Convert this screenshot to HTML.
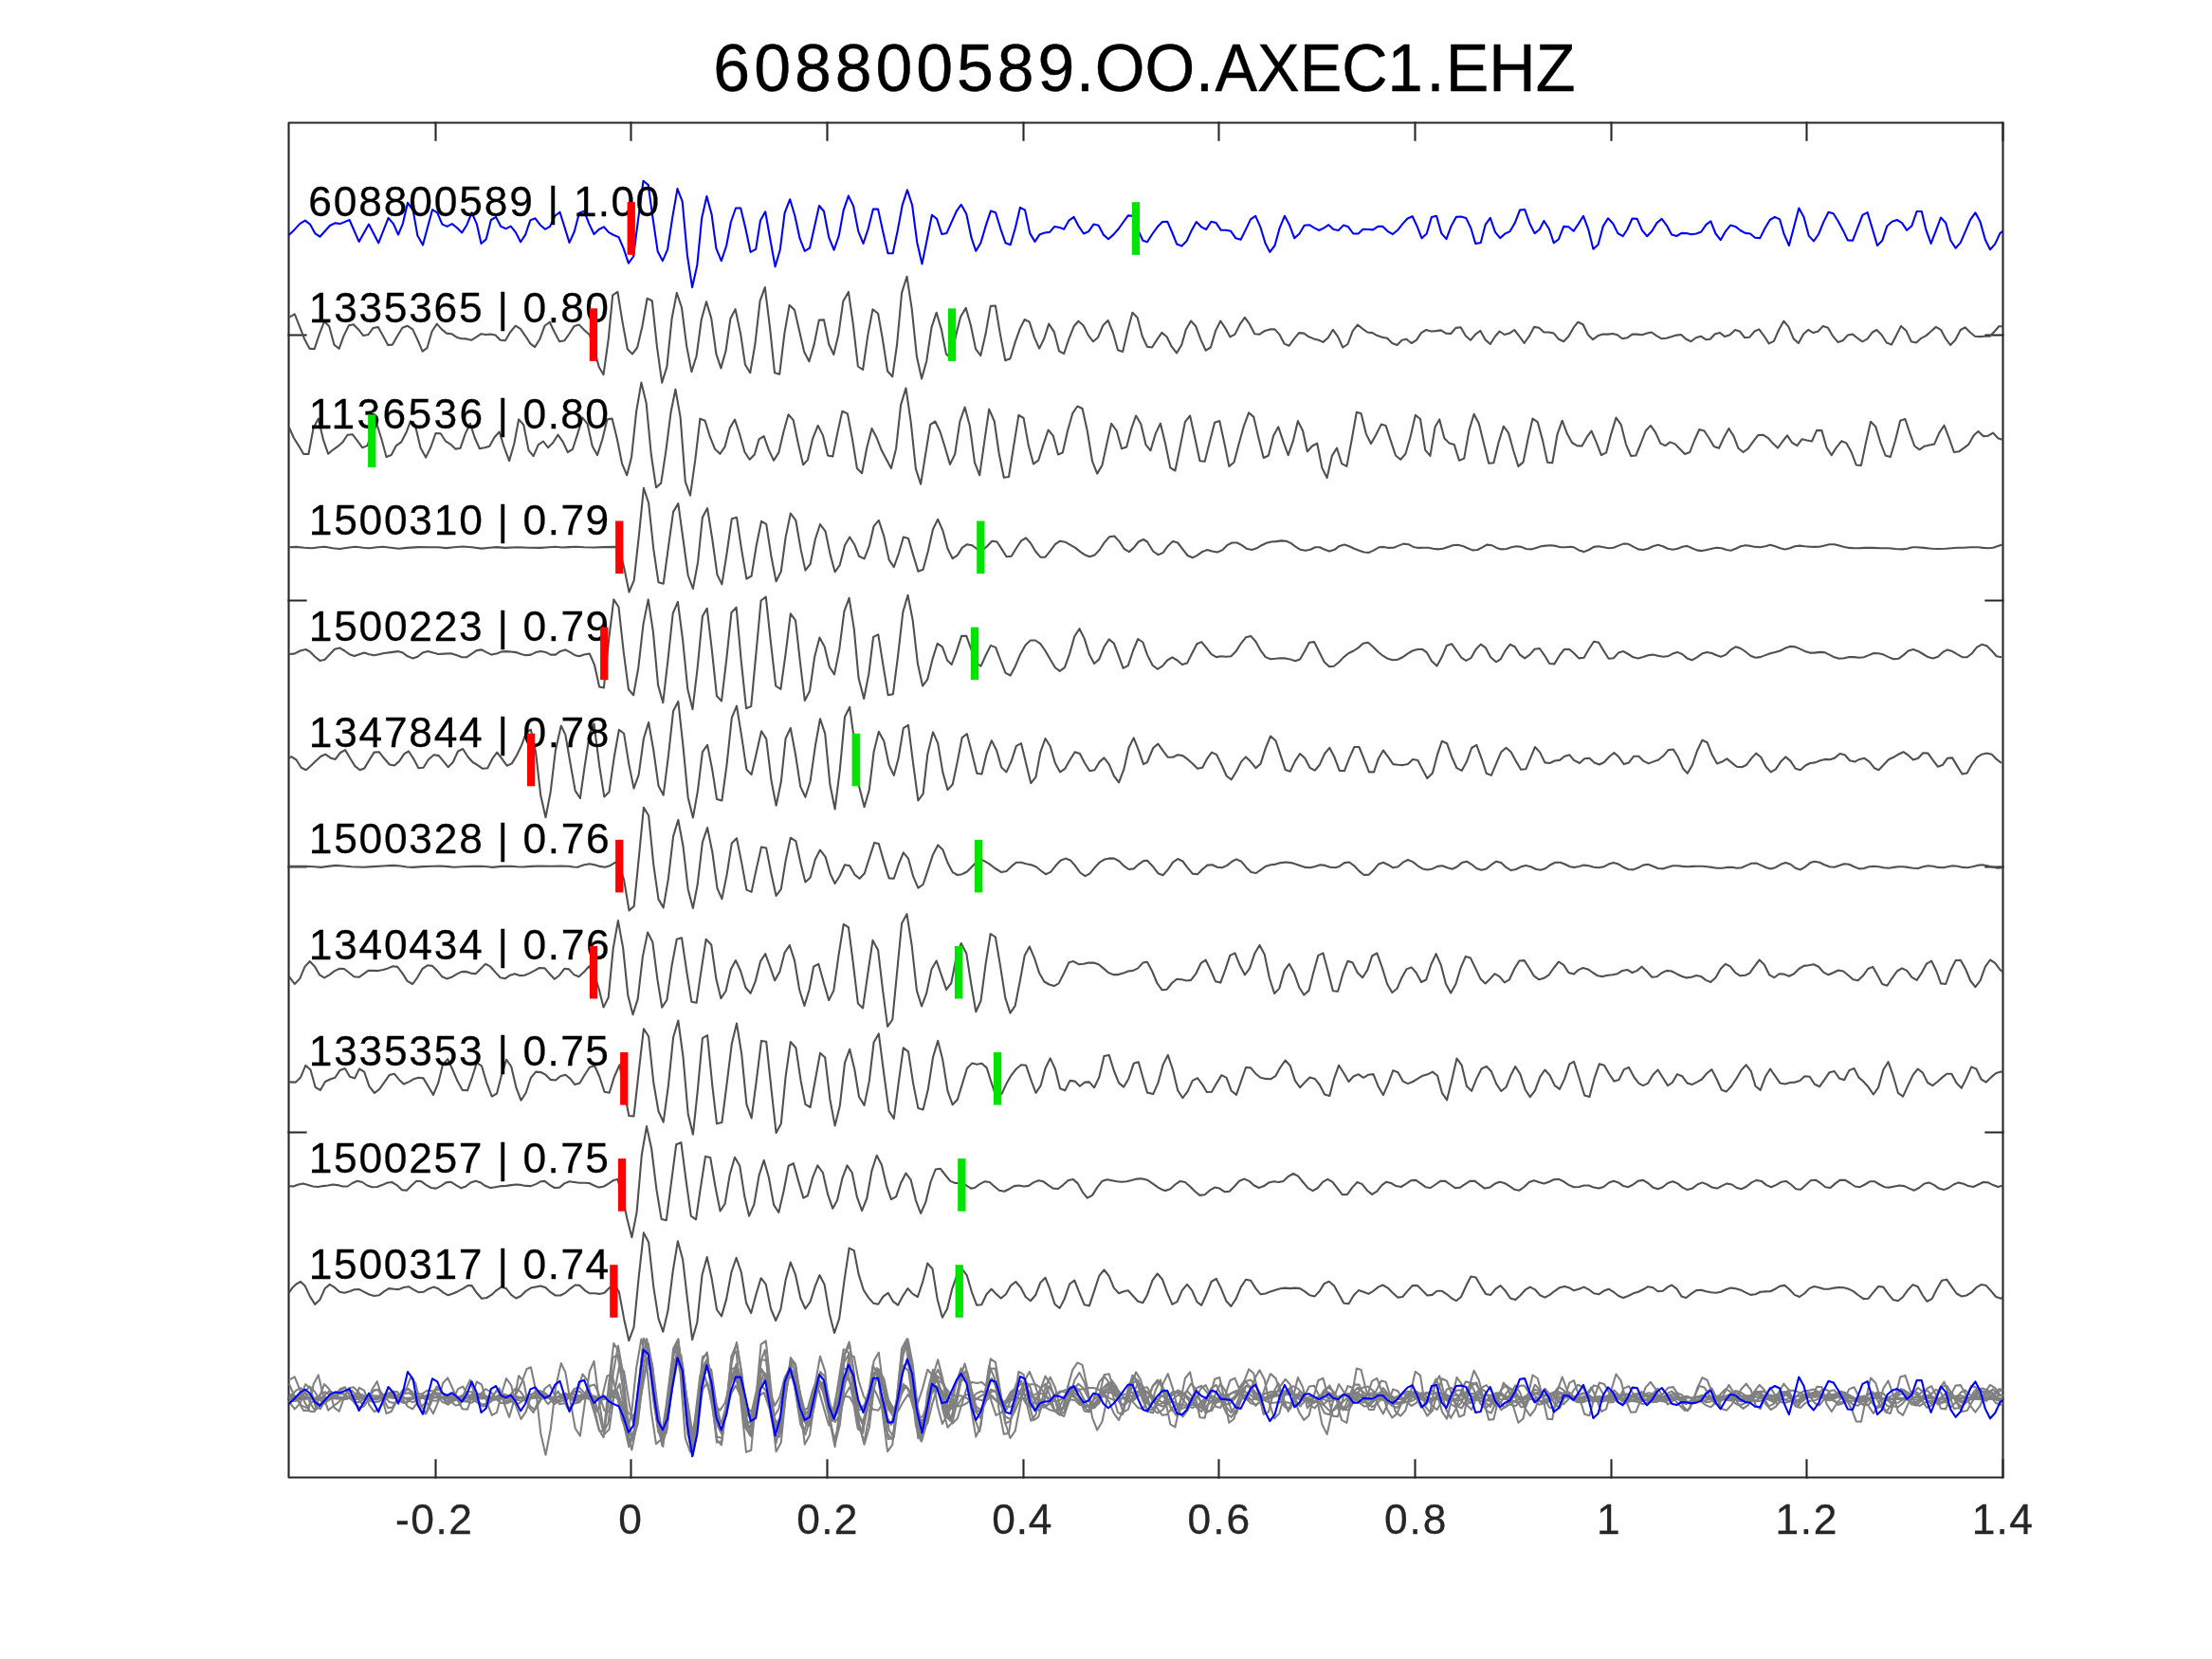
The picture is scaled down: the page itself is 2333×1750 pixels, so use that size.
<!DOCTYPE html><html><head><meta charset="utf-8"><title>608800589.OO.AXEC1.EHZ</title>
<style>html,body{margin:0;padding:0;background:#fff}svg{display:block}text{font-family:"Liberation Sans",sans-serif}</style></head><body>
<svg width="2333" height="1750" viewBox="0 0 2333 1750">
<rect x="0" y="0" width="2333" height="1750" fill="#fff"/>
<defs><filter id="ga" filterUnits="userSpaceOnUse" x="0" y="0" width="2333" height="1750"><feOffset dx="0" dy="0"/></filter></defs>
<defs><clipPath id="ax"><rect x="304.5" y="129.5" width="1808.0" height="1429.0"/></clipPath></defs>
<g filter="url(#ga)">
<rect x="304.5" y="129.5" width="1808.0" height="1429.0" fill="none" stroke="#262626" stroke-width="2.08" stroke-linejoin="round"/>
<path d="M459.5 1558.5v-18.1M459.5 129.5v18.1M665.5 1558.5v-18.1M665.5 129.5v18.1M872.5 1558.5v-18.1M872.5 129.5v18.1M1079.5 1558.5v-18.1M1079.5 129.5v18.1M1285.5 1558.5v-18.1M1285.5 129.5v18.1M1492.5 1558.5v-18.1M1492.5 129.5v18.1M1699.5 1558.5v-18.1M1699.5 129.5v18.1M1905.5 1558.5v-18.1M1905.5 129.5v18.1M2112.5 1558.5v-18.1M2112.5 129.5v18.1M304.5 353.5h18.1M2112.5 353.5h-18.1M304.5 633.5h18.1M2112.5 633.5h-18.1M304.5 914.5h18.1M2112.5 914.5h-18.1M304.5 1194.5h18.1M2112.5 1194.5h-18.1M304.5 1475.5h18.1M2112.5 1475.5h-18.1" stroke="#262626" stroke-width="2.08" stroke-linecap="square" fill="none"/>
<g clip-path="url(#ax)">
<polyline points="304.6,1455.9 310.8,1452.4 316.0,1465.3 321.2,1478.8 326.4,1488.6 331.6,1489.2 336.8,1473.6 342.0,1460.1 347.2,1465.3 352.4,1484.6 357.6,1488.8 362.8,1474.6 368.0,1464.2 372.8,1463.2 378.0,1468.4 383.2,1475.1 388.4,1474.0 393.6,1466.9 398.8,1465.9 404.0,1475.3 409.2,1485.0 414.0,1484.6 419.2,1475.3 424.4,1466.7 429.6,1464.7 435.2,1468.4 440.4,1479.4 445.6,1491.7 450.4,1488.2 455.6,1470.5 460.8,1462.6 465.9,1468.4 471.1,1472.6 476.3,1473.2 481.5,1476.7 486.7,1478.2 491.9,1478.4 497.1,1479.8 502.3,1476.7 507.5,1473.2 512.1,1474.0 517.3,1473.6 522.5,1474.6 527.7,1479.8 532.9,1480.3 538.1,1471.5 543.7,1464.7 548.9,1467.8 554.1,1475.3 559.3,1483.4 564.1,1487.1 569.3,1478.8 574.5,1464.7 579.7,1460.7 584.9,1471.5 590.1,1481.3 595.3,1480.3 600.5,1473.0 605.7,1464.9 610.9,1463.6 616.1,1469.0 621.9,1474.2 626.5,1489.2 631.7,1507.9 636.5,1516.2 641.7,1478.8 646.2,1432.4 651.4,1428.9 656.6,1461.1 661.8,1489.2 667.0,1494.4 672.2,1487.5 677.4,1465.3 682.6,1435.8 687.8,1438.3 693.0,1487.1 698.2,1524.6 703.4,1507.9 708.6,1457.0 713.8,1429.9 719.0,1445.5 724.2,1486.1 729.4,1513.1 734.6,1496.5 739.8,1458.0 745.0,1439.3 750.2,1456.6 755.4,1494.4 760.4,1509.4 765.6,1490.7 770.4,1457.0 775.6,1447.2 781.2,1473.6 786.0,1505.8 791.2,1514.2 796.4,1484.0 801.6,1438.3 806.8,1424.1 812.0,1466.3 817.0,1514.2 822.2,1515.8 827.4,1472.6 832.6,1442.8 838.0,1448.0 843.2,1470.5 848.2,1492.3 853.4,1502.3 858.6,1484.6 863.8,1458.6 869.0,1458.4 874.2,1484.0 879.3,1495.0 884.5,1473.2 889.3,1438.7 894.9,1428.9 899.7,1462.2 904.9,1507.5 910.1,1511.0 915.3,1474.6 920.5,1447.2 926.1,1451.8 930.9,1478.8 936.1,1512.5 941.3,1518.3 946.1,1484.0 951.1,1429.9 956.5,1412.7 961.7,1446.6 966.9,1497.1 972.1,1520.4 977.3,1501.7 982.5,1466.3 987.7,1450.7 992.9,1468.4 997.9,1494.4 1002.7,1498.6 1008.5,1473.6 1013.1,1455.3 1018.7,1445.9 1023.9,1464.2 1029.1,1489.2 1034.3,1496.1 1039.5,1473.6 1044.7,1443.9 1049.9,1443.5 1055.1,1474.6 1060.3,1501.3 1065.5,1499.2 1070.7,1481.9 1075.9,1467.4 1080.7,1458.0 1085.8,1460.7 1091.0,1477.1 1096.2,1488.6 1101.4,1477.8 1106.2,1462.6 1111.8,1471.1 1117.0,1491.3 1122.2,1494.0 1127.4,1478.4 1132.6,1465.3 1137.4,1459.7 1142.6,1464.2 1147.8,1474.6 1153.0,1481.3 1158.2,1476.7 1163.4,1464.2 1168.6,1459.0 1173.8,1471.5 1179.0,1490.2 1184.2,1491.9 1189.4,1469.4 1194.4,1450.7 1199.6,1455.9 1204.8,1475.7 1210.0,1486.7 1215.0,1487.5 1220.2,1479.4 1225.4,1471.9 1230.6,1476.3 1235.8,1486.7 1241.0,1493.4 1246.2,1485.0 1250.9,1468.4 1256.1,1459.5 1261.3,1465.3 1266.5,1479.4 1271.7,1490.7 1276.9,1487.5 1282.1,1469.9 1287.3,1459.5 1292.5,1467.4 1297.3,1476.3 1302.5,1473.6 1307.7,1463.2 1312.9,1455.9 1318.1,1463.2 1323.3,1473.2 1328.5,1473.6 1334.1,1469.9 1339.3,1468.4 1344.5,1468.4 1349.3,1473.6 1354.5,1483.6 1359.7,1485.7 1364.9,1478.4 1370.1,1472.1 1375.3,1472.6 1380.5,1476.3 1385.7,1478.4 1390.9,1479.8 1395.5,1481.9 1400.7,1477.3 1405.9,1468.8 1411.1,1476.1 1416.3,1487.5 1421.5,1484.0 1426.7,1470.1 1431.9,1463.6 1437.1,1467.8 1442.3,1471.5 1447.5,1472.1 1452.7,1475.1 1457.9,1476.7 1463.1,1477.8 1468.3,1483.0 1473.5,1485.0 1478.7,1479.8 1483.4,1478.8 1488.6,1483.0 1493.8,1479.8 1499.0,1472.1 1504.2,1469.0 1509.4,1470.5 1514.6,1470.1 1519.8,1469.4 1525.0,1472.6 1530.2,1473.0 1535.4,1466.9 1540.6,1466.3 1545.8,1475.3 1551.0,1479.8 1556.2,1473.6 1561.4,1469.9 1566.6,1479.4 1571.8,1484.0 1577.0,1475.7 1581.6,1470.5 1586.8,1474.0 1592.0,1472.6 1597.2,1469.0 1602.4,1475.7 1607.6,1483.0 1612.8,1475.7 1618.0,1465.9 1623.2,1466.7 1628.4,1471.5 1633.6,1471.5 1638.8,1472.6 1644.0,1478.8 1649.2,1481.3 1654.4,1475.7 1659.6,1466.7 1664.4,1460.7 1669.6,1463.2 1674.8,1474.0 1680.0,1479.2 1685.2,1475.3 1690.4,1473.6 1695.6,1473.6 1700.8,1473.0 1705.9,1474.2 1711.1,1478.2 1716.3,1477.3 1721.5,1473.6 1726.7,1473.6 1731.9,1474.2 1737.1,1472.6 1741.9,1471.5 1747.1,1475.1 1752.3,1478.2 1757.5,1477.8 1762.7,1476.3 1767.9,1474.6 1773.1,1474.0 1778.3,1478.8 1783.5,1481.3 1788.7,1477.3 1793.9,1475.7 1799.1,1479.2 1803.7,1478.8 1808.9,1473.2 1814.1,1472.1 1819.3,1476.1 1824.5,1474.2 1830.1,1469.0 1834.9,1470.5 1840.1,1477.1 1845.3,1476.7 1850.5,1470.5 1855.3,1468.4 1860.5,1475.3 1865.7,1483.4 1870.9,1480.9 1876.1,1469.0 1881.3,1459.7 1886.5,1465.9 1891.7,1478.4 1896.9,1483.0 1902.1,1473.6 1907.3,1468.8 1912.5,1472.1 1917.6,1470.5 1922.8,1464.9 1928.0,1466.7 1933.2,1475.7 1938.4,1481.9 1943.6,1480.3 1948.8,1474.6 1954.0,1473.6 1959.2,1477.8 1964.4,1481.3 1969.6,1478.4 1974.8,1471.5 1979.4,1469.0 1984.6,1474.2 1989.8,1482.5 1995.0,1484.6 2000.2,1474.6 2005.0,1464.9 2010.6,1470.1 2015.8,1481.3 2021.0,1482.5 2026.2,1477.8 2031.4,1475.1 2036.6,1470.5 2041.8,1465.9 2047.0,1468.8 2052.2,1478.4 2057.0,1485.0 2062.2,1479.8 2067.8,1469.0 2072.6,1466.3 2077.8,1471.5 2083.0,1475.7 2088.2,1476.1 2093.4,1475.7 2098.6,1475.7 2103.8,1470.5 2108.3,1465.3 2112.5,1465.3" fill="none" stroke="#808080" stroke-width="2.08" stroke-linejoin="round" />
<polyline points="304.6,1459.2 309.8,1470.7 315.0,1479.0 320.2,1487.9 325.4,1487.9 330.6,1460.3 335.8,1450.5 341.0,1472.8 346.2,1487.7 351.4,1483.2 356.6,1479.6 361.8,1474.8 366.5,1467.6 371.7,1467.1 376.9,1473.8 382.1,1481.1 387.3,1479.0 392.5,1465.5 397.7,1457.2 402.3,1471.7 407.5,1490.9 412.7,1489.0 417.9,1479.0 423.1,1475.3 428.3,1465.5 433.1,1453.0 438.3,1459.2 443.5,1481.1 449.1,1491.5 454.3,1480.7 459.5,1465.9 464.7,1466.1 469.9,1474.2 475.1,1477.5 480.3,1482.5 485.5,1481.7 490.7,1466.5 495.9,1455.7 500.7,1470.7 505.9,1482.1 511.1,1481.1 516.3,1479.6 521.5,1470.1 526.7,1464.4 531.9,1481.1 537.1,1495.0 542.3,1476.9 547.1,1451.3 552.3,1457.2 557.5,1483.8 562.6,1490.0 567.8,1478.0 573.0,1474.4 578.0,1481.1 583.2,1475.9 588.4,1467.6 593.6,1474.8 598.8,1485.9 604.0,1482.7 609.2,1466.5 614.4,1449.5 619.6,1456.1 624.8,1479.6 630.0,1489.0 635.2,1472.8 640.4,1451.3 645.6,1450.5 650.8,1471.7 656.0,1497.7 661.2,1510.2 666.0,1491.5 671.2,1442.6 676.4,1412.5 681.6,1433.9 686.8,1488.4 692.0,1523.1 697.2,1518.5 702.4,1484.2 707.6,1443.6 712.4,1419.7 717.6,1448.8 722.8,1517.1 728.0,1531.6 733.2,1494.6 738.4,1450.5 743.6,1452.6 748.8,1469.6 754.0,1482.5 759.4,1487.7 764.6,1480.0 769.8,1460.3 775.0,1451.5 780.2,1467.1 785.4,1485.7 790.6,1493.6 795.8,1488.4 800.5,1472.3 805.7,1469.0 810.9,1483.8 816.1,1494.6 821.3,1486.3 826.3,1464.9 831.5,1446.1 836.7,1452.0 841.9,1476.9 847.1,1499.2 851.9,1494.0 857.1,1471.7 862.7,1457.8 867.9,1468.0 873.1,1489.4 878.3,1490.4 883.1,1466.5 888.3,1442.6 893.9,1445.3 899.1,1472.8 903.9,1502.9 909.1,1508.1 914.3,1481.1 919.5,1460.9 924.7,1470.7 929.9,1484.2 935.1,1494.0 939.9,1502.9 945.1,1482.1 950.1,1436.0 955.5,1418.3 960.7,1454.0 965.9,1503.5 971.1,1519.6 976.3,1487.3 981.2,1456.7 986.4,1453.4 991.6,1464.4 996.8,1481.1 1002.0,1498.8 1007.2,1487.9 1012.4,1453.6 1017.6,1438.4 1022.8,1457.8 1028.0,1496.7 1033.2,1510.2 1038.0,1476.5 1043.2,1440.5 1048.8,1453.4 1053.6,1486.9 1058.8,1512.7 1064.0,1511.9 1069.2,1479.0 1074.4,1446.8 1079.6,1449.9 1084.8,1479.0 1090.0,1498.3 1095.2,1494.6 1100.4,1478.0 1105.6,1462.4 1110.8,1468.6 1116.0,1488.4 1120.8,1486.3 1126.0,1463.4 1131.2,1445.1 1136.4,1437.4 1141.6,1439.9 1146.8,1463.4 1152.0,1495.2 1157.2,1508.5 1162.4,1499.8 1167.6,1475.9 1172.2,1455.7 1177.8,1463.4 1183.0,1482.1 1188.2,1480.5 1193.4,1460.7 1198.1,1447.4 1203.3,1456.1 1208.5,1478.0 1213.5,1484.2 1218.7,1466.5 1223.9,1455.5 1229.1,1476.9 1234.3,1502.3 1239.5,1505.4 1244.7,1480.0 1249.9,1454.0 1255.1,1447.4 1260.3,1470.7 1265.5,1495.2 1270.7,1495.6 1275.9,1474.8 1281.1,1454.7 1286.3,1453.0 1291.5,1476.9 1296.3,1500.8 1301.5,1496.7 1306.7,1476.9 1311.9,1458.2 1317.1,1444.3 1322.3,1448.8 1327.5,1471.1 1332.7,1491.9 1337.9,1489.4 1343.1,1468.6 1348.3,1459.2 1353.5,1474.8 1358.7,1489.0 1363.9,1473.8 1368.9,1453.0 1374.1,1463.4 1378.8,1485.2 1384.0,1479.4 1389.2,1476.5 1394.4,1502.5 1399.6,1512.9 1404.8,1489.8 1410.0,1481.5 1415.2,1498.1 1420.4,1500.8 1425.6,1473.2 1430.8,1443.6 1435.6,1445.1 1440.8,1466.5 1446.0,1476.9 1451.2,1467.6 1456.8,1456.5 1461.6,1457.8 1466.8,1473.8 1472.0,1489.4 1477.2,1493.6 1482.4,1487.7 1487.6,1469.6 1492.8,1446.8 1498.0,1450.9 1503.2,1483.6 1508.4,1489.8 1513.6,1459.2 1518.2,1451.3 1523.4,1471.1 1528.6,1476.5 1533.8,1478.0 1539.0,1494.6 1544.2,1492.5 1549.4,1463.0 1554.6,1445.7 1559.8,1455.7 1565.0,1476.9 1570.2,1497.7 1575.4,1497.1 1580.6,1475.5 1585.8,1458.6 1591.0,1465.5 1596.2,1484.2 1601.4,1500.8 1606.6,1496.3 1611.8,1470.7 1616.5,1450.5 1621.7,1454.0 1626.9,1472.8 1632.1,1496.7 1637.3,1497.1 1642.5,1467.1 1647.7,1452.6 1652.9,1466.5 1658.1,1475.9 1663.3,1479.0 1668.5,1479.4 1673.7,1470.1 1678.5,1463.4 1683.7,1475.5 1688.9,1489.0 1694.1,1486.3 1699.3,1466.5 1704.5,1449.5 1709.7,1456.7 1714.9,1477.5 1720.1,1489.8 1725.3,1489.4 1730.5,1476.9 1735.7,1463.4 1740.9,1457.8 1746.1,1465.1 1751.3,1476.5 1756.3,1479.0 1761.5,1475.3 1766.7,1477.3 1771.9,1482.7 1777.1,1487.9 1782.3,1485.9 1787.1,1473.4 1792.3,1461.9 1797.5,1463.4 1802.6,1471.1 1807.8,1480.0 1813.0,1481.7 1818.2,1470.3 1823.4,1460.9 1828.6,1469.0 1833.4,1481.7 1838.6,1485.9 1843.8,1482.1 1849.0,1474.8 1854.2,1468.0 1859.4,1467.6 1864.6,1470.7 1869.8,1476.5 1875.0,1481.5 1880.2,1474.4 1885.0,1468.2 1890.2,1475.9 1895.4,1479.0 1900.6,1472.1 1905.8,1473.4 1911.0,1474.4 1916.2,1462.8 1921.4,1463.0 1926.6,1481.1 1931.8,1489.0 1937.0,1480.7 1942.2,1474.2 1947.4,1476.3 1952.6,1485.7 1957.8,1499.4 1963.0,1499.8 1967.8,1476.5 1973.0,1453.6 1978.2,1458.8 1983.4,1475.9 1988.6,1489.4 1993.8,1490.9 1999.0,1473.4 2004.2,1452.6 2009.4,1450.9 2014.6,1466.5 2019.3,1479.4 2024.5,1483.2 2029.7,1479.6 2034.9,1478.4 2040.1,1477.5 2045.3,1465.5 2050.5,1457.6 2055.7,1471.1 2060.9,1485.9 2066.1,1485.2 2071.3,1481.5 2076.5,1477.5 2081.7,1468.2 2086.5,1463.8 2091.7,1469.0 2096.9,1468.6 2102.1,1465.5 2107.3,1471.1 2112.5,1472.8" fill="none" stroke="#808080" stroke-width="2.08" stroke-linejoin="round" />
<polyline points="304.6,1474.1 312.5,1473.7 320.8,1474.5 329.1,1475.1 336.4,1474.1 342.6,1473.5 350.9,1475.1 358.2,1475.8 366.5,1474.5 374.9,1473.5 383.2,1474.5 389.4,1475.1 397.7,1474.1 404.0,1473.5 412.3,1474.5 420.6,1475.6 428.9,1474.7 441.4,1473.9 453.9,1474.1 462.2,1474.1 470.5,1474.9 478.8,1474.1 488.2,1473.3 497.6,1474.1 508.0,1475.4 516.3,1474.5 523.6,1473.9 532.9,1474.7 545.4,1474.1 557.9,1474.5 570.3,1474.7 578.7,1474.1 585.9,1473.5 593.2,1474.3 599.5,1473.9 607.8,1473.5 616.1,1474.1 626.5,1474.3 636.9,1473.9 649.4,1473.7 653.5,1478.3 658.1,1494.9 663.5,1521.3 668.7,1509.0 673.9,1461.6 678.9,1411.7 684.1,1427.3 689.3,1476.2 694.5,1511.1 699.7,1512.6 704.9,1474.1 710.1,1436.7 715.3,1427.9 720.5,1465.8 725.7,1503.8 730.9,1517.8 736.1,1489.7 740.9,1442.5 746.1,1432.9 751.3,1465.8 756.5,1503.2 761.4,1513.2 766.6,1480.3 771.8,1444.0 777.0,1442.5 782.2,1477.2 787.4,1507.4 792.6,1504.3 797.8,1472.0 803.0,1446.7 808.2,1449.6 813.4,1483.5 818.6,1510.1 823.8,1499.5 828.6,1463.7 833.8,1438.3 839.4,1446.0 844.6,1476.2 849.4,1498.4 854.6,1491.8 859.8,1465.8 865.0,1449.8 870.6,1457.5 875.8,1482.4 880.6,1500.1 885.8,1492.8 891.0,1472.0 896.2,1463.3 901.4,1471.6 906.0,1483.5 911.6,1486.2 916.8,1472.7 921.6,1451.9 926.8,1445.6 932.4,1462.7 937.6,1487.2 942.8,1494.9 948.0,1480.3 952.8,1463.3 958.0,1464.7 963.2,1482.4 968.4,1499.5 973.6,1497.6 978.8,1478.3 984.0,1455.0 989.2,1444.6 994.3,1456.4 999.5,1475.6 1004.7,1486.0 1009.9,1482.4 1014.7,1474.7 1019.9,1471.0 1025.1,1472.0 1030.3,1475.8 1035.9,1477.2 1041.1,1473.1 1046.3,1467.5 1051.5,1468.3 1056.7,1476.2 1061.5,1484.1 1066.7,1483.5 1071.9,1475.1 1077.1,1467.2 1082.1,1464.3 1086.9,1469.5 1092.1,1478.3 1097.3,1484.5 1102.5,1484.5 1107.7,1477.9 1112.9,1471.0 1118.1,1467.5 1123.3,1468.5 1128.5,1471.4 1134.3,1474.7 1139.5,1478.9 1144.7,1482.4 1149.3,1484.1 1154.5,1482.4 1159.7,1476.8 1164.9,1468.9 1170.1,1463.1 1175.3,1462.3 1180.5,1467.9 1185.7,1475.8 1190.9,1478.9 1195.7,1474.7 1200.8,1468.3 1206.0,1465.8 1210.0,1468.3 1216.2,1478.3 1221.4,1482.0 1226.6,1479.9 1231.8,1472.7 1237.0,1467.9 1242.2,1469.3 1247.4,1476.2 1252.6,1482.8 1257.8,1485.1 1263.0,1482.4 1268.2,1478.7 1273.4,1476.8 1278.6,1478.3 1283.8,1479.3 1289.0,1477.2 1294.2,1472.0 1299.4,1469.3 1304.6,1469.3 1309.8,1472.0 1315.0,1475.6 1320.2,1476.8 1325.4,1475.1 1330.6,1472.0 1335.8,1469.5 1341.0,1468.3 1346.2,1467.9 1351.4,1467.2 1356.6,1467.5 1361.8,1469.9 1366.4,1473.5 1371.6,1476.6 1376.8,1477.6 1382.0,1476.6 1387.2,1474.1 1391.9,1474.1 1397.1,1476.6 1402.3,1478.3 1407.5,1476.6 1412.7,1472.7 1417.9,1471.4 1423.1,1473.1 1428.3,1475.6 1433.5,1477.6 1438.7,1479.3 1443.9,1479.7 1449.1,1477.2 1454.3,1474.1 1459.5,1473.7 1464.7,1474.7 1469.9,1474.5 1475.1,1472.4 1480.3,1470.4 1485.5,1471.0 1490.7,1473.7 1495.9,1474.7 1501.1,1474.5 1506.3,1474.5 1511.5,1475.6 1516.7,1476.2 1521.9,1475.6 1527.1,1473.7 1532.3,1472.0 1537.5,1471.6 1542.7,1472.7 1547.9,1475.1 1553.1,1477.2 1558.3,1476.8 1563.5,1474.1 1568.1,1471.4 1573.3,1472.0 1578.5,1474.7 1583.7,1476.2 1588.9,1475.8 1594.1,1474.1 1599.3,1473.1 1604.5,1473.7 1609.7,1475.8 1614.9,1476.2 1620.1,1474.7 1625.3,1473.1 1630.5,1472.4 1635.7,1472.0 1640.9,1472.7 1646.1,1474.1 1651.3,1474.1 1656.5,1473.5 1660.0,1474.1 1665.4,1477.2 1670.6,1478.9 1675.8,1476.8 1681.0,1473.7 1686.2,1473.1 1691.4,1474.1 1696.6,1475.1 1701.8,1474.5 1707.0,1472.4 1712.2,1470.4 1717.4,1470.6 1722.6,1473.5 1727.8,1476.2 1733.0,1476.8 1738.2,1475.6 1743.4,1473.1 1748.6,1471.6 1753.8,1473.1 1759.0,1475.6 1764.2,1476.6 1769.4,1475.6 1774.6,1473.5 1779.4,1472.7 1784.6,1475.1 1789.8,1477.2 1795.0,1477.9 1800.2,1476.8 1805.4,1475.6 1810.6,1474.5 1815.8,1475.1 1820.9,1476.8 1825.5,1477.6 1830.7,1475.6 1835.9,1473.1 1841.1,1472.0 1846.3,1472.7 1851.5,1473.7 1856.7,1474.1 1861.9,1473.1 1867.1,1471.6 1872.3,1473.1 1877.5,1475.1 1882.7,1476.2 1887.9,1475.1 1893.1,1473.1 1898.3,1472.4 1903.5,1473.1 1908.7,1473.5 1913.9,1473.7 1919.1,1473.5 1924.3,1472.4 1929.5,1471.0 1934.7,1471.0 1939.9,1472.4 1945.1,1473.7 1950.3,1474.7 1955.5,1475.1 1960.7,1475.1 1966.9,1474.7 1975.3,1474.7 1983.6,1475.1 1991.9,1475.1 1999.2,1475.8 2006.4,1476.2 2011.6,1475.6 2016.8,1474.1 2022.0,1474.1 2029.3,1474.7 2037.6,1475.6 2044.9,1475.8 2052.2,1475.6 2058.4,1475.1 2064.7,1474.5 2070.9,1474.5 2079.2,1474.1 2086.5,1474.1 2091.7,1474.7 2096.9,1475.1 2102.1,1474.5 2107.3,1472.7 2112.5,1471.0" fill="none" stroke="#808080" stroke-width="2.08" stroke-linejoin="round" />
<polyline points="304.6,1474.7 310.4,1474.3 316.6,1471.2 322.5,1469.7 327.0,1472.2 332.2,1477.4 337.4,1481.6 342.6,1480.5 347.8,1474.9 353.0,1469.5 358.2,1468.1 363.4,1471.2 368.6,1474.9 373.8,1476.8 379.0,1474.9 384.2,1473.3 389.4,1474.9 394.6,1476.0 399.8,1474.9 405.0,1473.7 412.3,1472.8 419.6,1471.8 424.8,1473.3 430.0,1477.0 435.2,1479.1 440.4,1477.4 445.6,1473.3 451.4,1471.6 457.0,1473.3 462.2,1474.7 468.4,1474.3 475.7,1473.9 482.0,1476.0 487.2,1478.0 492.4,1477.8 497.6,1474.3 502.8,1470.8 508.0,1470.1 513.2,1472.8 518.4,1475.3 523.6,1474.3 528.8,1472.2 534.0,1471.8 539.2,1472.2 544.3,1472.8 549.5,1474.7 554.7,1476.0 559.9,1475.3 565.1,1472.8 570.3,1471.6 575.5,1472.6 580.7,1475.3 585.9,1475.3 591.1,1471.6 596.3,1470.1 601.5,1472.8 606.7,1476.0 610.9,1477.0 616.1,1475.3 621.9,1474.3 627.1,1486.4 632.1,1509.2 636.9,1510.1 642.1,1459.7 647.3,1417.1 652.5,1425.0 657.7,1472.2 662.9,1511.7 668.1,1518.0 673.3,1488.9 678.5,1443.1 683.7,1417.1 688.9,1451.4 694.1,1507.6 699.3,1525.9 704.5,1480.5 709.7,1431.7 714.9,1419.6 720.1,1459.7 725.3,1511.7 730.5,1532.9 735.7,1488.9 740.9,1434.8 745.7,1426.5 750.8,1470.1 756.0,1519.0 761.0,1524.2 766.2,1480.5 771.4,1431.0 776.6,1425.4 781.8,1482.6 787.0,1531.9 792.2,1529.8 797.4,1474.3 802.6,1418.2 807.8,1414.4 813.0,1462.9 818.2,1508.2 823.4,1511.7 828.6,1474.3 833.8,1432.1 839.0,1439.0 844.2,1485.7 848.8,1523.6 854.0,1513.8 859.2,1477.4 864.4,1457.3 869.6,1466.6 874.8,1488.2 880.0,1496.1 885.2,1470.1 890.4,1429.6 895.6,1415.5 900.8,1448.3 905.6,1500.3 911.2,1521.7 916.4,1495.1 921.1,1456.6 926.3,1454.1 931.5,1486.8 936.7,1518.0 941.9,1516.9 947.1,1476.4 952.3,1430.6 957.5,1412.5 962.7,1439.0 967.9,1484.7 973.1,1508.2 978.3,1501.3 983.5,1480.1 988.7,1463.5 993.9,1467.0 999.1,1481.2 1003.7,1485.7 1008.9,1471.8 1014.1,1455.6 1019.3,1455.6 1024.5,1470.1 1029.7,1483.7 1034.5,1487.4 1039.7,1476.0 1044.9,1465.6 1050.1,1467.6 1055.3,1481.2 1060.5,1494.5 1065.7,1497.2 1070.9,1487.4 1076.1,1474.9 1081.7,1464.9 1086.9,1460.2 1092.1,1460.2 1097.3,1463.9 1102.5,1471.2 1107.7,1480.1 1112.9,1488.9 1117.7,1492.6 1122.9,1488.9 1128.1,1474.3 1133.3,1456.0 1138.5,1447.9 1143.7,1458.3 1148.9,1474.9 1154.1,1484.7 1159.3,1480.1 1164.5,1467.0 1169.7,1459.1 1174.9,1463.3 1180.1,1477.0 1184.6,1489.5 1189.8,1486.8 1195.0,1471.2 1200.2,1458.7 1205.4,1462.2 1210.0,1475.3 1215.6,1486.4 1220.8,1490.5 1226.0,1487.4 1231.2,1481.2 1236.4,1478.0 1241.6,1481.2 1246.8,1485.7 1252.0,1484.3 1257.2,1473.9 1262.4,1463.9 1267.2,1461.8 1272.4,1468.1 1277.6,1474.9 1282.8,1477.8 1288.0,1477.0 1293.2,1477.4 1298.4,1477.0 1303.6,1471.8 1308.8,1463.5 1314.0,1457.0 1319.2,1455.6 1324.4,1461.4 1329.6,1470.8 1334.8,1477.8 1340.0,1479.9 1345.2,1479.5 1350.4,1478.9 1355.6,1479.1 1360.8,1480.1 1365.9,1482.0 1371.1,1480.1 1376.3,1471.2 1380.9,1462.5 1386.1,1461.8 1391.3,1472.2 1396.5,1482.6 1401.7,1487.8 1406.9,1487.4 1412.1,1483.2 1417.3,1477.8 1422.5,1473.7 1427.7,1471.2 1432.5,1468.1 1437.7,1463.5 1442.9,1462.5 1448.1,1467.0 1453.3,1472.2 1458.5,1476.4 1463.7,1479.5 1468.9,1481.0 1474.1,1480.5 1479.3,1478.0 1484.5,1474.3 1489.7,1471.2 1494.9,1469.7 1500.1,1469.5 1504.7,1472.8 1509.9,1482.0 1515.5,1487.2 1520.7,1477.8 1525.9,1465.6 1531.1,1463.9 1536.3,1471.2 1541.5,1478.5 1546.2,1481.6 1551.4,1478.9 1556.6,1469.7 1561.8,1464.3 1567.0,1468.1 1572.2,1478.0 1577.9,1483.0 1582.6,1480.1 1587.8,1470.8 1592.6,1464.5 1597.8,1467.0 1603.0,1475.3 1608.2,1479.1 1613.4,1475.3 1618.6,1469.5 1623.8,1468.7 1629.0,1476.0 1634.2,1484.7 1639.4,1485.1 1644.6,1476.4 1649.8,1469.7 1655.0,1469.5 1660.0,1473.7 1665.4,1479.1 1670.6,1478.5 1675.8,1469.5 1681.0,1461.4 1686.2,1462.5 1691.4,1471.2 1696.6,1479.5 1701.8,1478.9 1707.0,1473.3 1712.2,1471.8 1717.4,1474.7 1722.6,1478.0 1727.8,1479.1 1733.0,1477.8 1738.2,1476.0 1743.4,1475.3 1748.6,1476.4 1753.8,1477.4 1759.0,1477.0 1764.2,1474.3 1769.0,1472.6 1774.2,1474.7 1779.4,1479.1 1784.6,1481.0 1789.8,1478.0 1795.0,1474.3 1800.2,1472.6 1805.4,1473.7 1810.6,1476.0 1815.1,1477.4 1820.3,1475.3 1825.5,1470.1 1830.7,1467.0 1835.9,1468.7 1841.1,1472.2 1846.3,1476.4 1851.5,1478.5 1856.7,1477.8 1861.9,1475.8 1867.1,1473.9 1872.3,1472.8 1877.5,1471.2 1882.7,1468.5 1887.9,1466.6 1893.1,1467.0 1898.3,1469.1 1903.5,1471.6 1908.7,1473.3 1913.9,1473.3 1919.1,1472.6 1924.3,1472.8 1929.5,1475.3 1934.7,1478.0 1939.9,1479.5 1945.1,1478.9 1950.3,1477.8 1955.5,1477.8 1960.7,1478.5 1965.9,1478.0 1971.1,1475.8 1976.3,1473.7 1981.5,1473.9 1986.7,1475.3 1991.9,1477.8 1997.1,1479.9 2002.3,1479.5 2007.5,1475.8 2012.7,1471.2 2017.9,1469.7 2023.1,1471.6 2028.3,1474.7 2033.5,1477.8 2038.7,1479.1 2043.9,1477.4 2049.1,1472.6 2053.9,1470.1 2059.1,1471.8 2064.3,1474.9 2069.5,1477.8 2074.7,1478.0 2079.9,1473.9 2085.1,1467.4 2090.3,1464.5 2095.5,1466.0 2100.7,1471.2 2105.8,1477.0 2111.0,1478.0" fill="none" stroke="#808080" stroke-width="2.08" stroke-linejoin="round" />
<polyline points="304.6,1472.4 307.3,1470.8 312.5,1474.1 317.7,1482.4 322.9,1484.9 328.1,1480.1 333.3,1475.1 338.5,1470.3 343.3,1468.3 348.5,1472.0 353.7,1473.5 358.9,1466.6 364.1,1463.7 369.2,1472.4 374.4,1480.7 379.6,1484.9 384.2,1483.2 389.4,1474.5 394.6,1466.2 399.8,1465.8 405.0,1472.4 410.8,1479.1 416.0,1480.1 421.2,1475.5 426.4,1467.8 431.0,1465.1 436.2,1473.0 441.4,1482.8 446.6,1482.4 451.8,1473.9 457.6,1468.9 462.8,1469.7 468.0,1476.0 472.6,1481.8 477.8,1476.6 483.0,1465.1 488.2,1462.6 493.4,1470.8 498.6,1476.6 503.8,1479.7 509.0,1483.4 514.2,1482.8 519.4,1472.8 524.2,1466.2 529.4,1473.0 534.6,1480.3 539.8,1478.0 545.0,1469.3 550.2,1458.5 555.4,1444.3 559.9,1442.3 565.1,1466.2 570.3,1511.9 575.5,1534.8 580.7,1507.8 585.9,1464.1 591.8,1438.1 596.3,1447.5 601.5,1477.6 606.7,1506.7 611.9,1514.6 616.7,1480.7 621.9,1446.4 626.5,1436.0 632.1,1479.7 637.3,1513.0 642.5,1507.8 647.7,1471.4 652.9,1442.3 658.1,1446.4 663.3,1478.7 668.5,1504.2 673.7,1489.7 678.9,1451.6 684.1,1434.6 689.3,1464.1 694.5,1501.5 699.7,1511.3 704.9,1470.3 710.1,1422.5 715.3,1412.5 720.5,1459.9 725.7,1514.0 730.9,1535.2 736.1,1505.7 740.9,1465.8 746.1,1458.5 751.3,1484.9 756.0,1515.5 761.4,1517.1 766.6,1478.7 771.8,1429.8 777.0,1417.3 782.2,1449.5 787.4,1484.3 792.6,1489.7 797.8,1467.2 803.0,1443.9 808.2,1452.0 813.4,1495.3 818.6,1522.3 823.8,1497.4 828.6,1451.6 833.8,1440.6 839.0,1468.3 844.2,1502.2 849.4,1513.4 854.6,1496.8 859.8,1459.9 865.0,1430.8 870.2,1446.4 875.4,1500.1 880.6,1526.1 885.8,1484.9 891.0,1428.8 896.2,1418.4 901.0,1453.7 906.0,1501.5 911.6,1523.8 916.8,1505.7 921.6,1465.8 926.8,1444.3 932.4,1454.7 937.6,1479.3 942.8,1490.5 947.6,1472.4 952.8,1440.8 958.0,1437.5 963.2,1478.7 968.4,1517.1 973.6,1509.9 978.3,1468.3 984.0,1444.8 989.2,1456.8 994.3,1487.0 999.5,1505.7 1004.7,1500.1 1009.9,1475.5 1014.7,1450.6 1019.9,1446.8 1025.1,1467.2 1030.3,1488.4 1035.5,1489.1 1040.7,1467.2 1045.9,1453.7 1051.1,1464.1 1056.3,1482.2 1061.5,1487.0 1066.7,1475.5 1071.9,1459.5 1077.1,1456.8 1082.1,1477.6 1087.3,1498.8 1092.5,1492.2 1097.3,1466.2 1102.5,1451.6 1107.7,1459.9 1112.9,1477.6 1118.1,1487.0 1123.3,1483.4 1128.5,1474.1 1133.7,1465.8 1138.9,1467.6 1144.1,1477.6 1149.3,1485.9 1154.5,1484.9 1159.7,1476.2 1164.5,1472.0 1169.7,1478.7 1174.9,1491.1 1180.1,1498.0 1185.3,1484.3 1190.5,1461.4 1195.7,1451.0 1200.8,1463.7 1206.0,1478.7 1210.0,1476.6 1216.2,1461.6 1221.4,1457.2 1226.6,1464.5 1231.8,1471.4 1237.0,1471.4 1242.2,1468.9 1247.4,1469.7 1252.6,1473.5 1257.8,1478.2 1263.0,1483.4 1268.2,1482.4 1272.8,1473.5 1278.0,1466.2 1283.2,1468.7 1288.4,1479.3 1293.6,1491.1 1298.8,1494.9 1304.0,1486.4 1309.2,1476.0 1314.0,1471.0 1319.2,1476.2 1324.4,1482.8 1329.6,1478.2 1334.8,1462.0 1340.0,1449.1 1345.6,1454.1 1350.8,1469.7 1355.6,1484.5 1360.8,1486.4 1365.9,1475.5 1371.1,1467.6 1376.3,1472.4 1381.5,1482.4 1386.7,1485.3 1391.9,1479.3 1397.1,1467.6 1402.3,1461.4 1407.5,1471.4 1412.7,1485.5 1417.9,1485.9 1423.1,1472.4 1428.3,1460.6 1433.5,1460.6 1438.7,1473.5 1443.9,1487.0 1449.1,1487.0 1453.7,1473.0 1458.9,1464.1 1464.1,1471.0 1469.3,1478.7 1474.5,1479.3 1479.7,1479.7 1484.9,1478.7 1490.1,1473.5 1495.3,1474.5 1500.5,1484.5 1505.3,1493.6 1510.9,1488.0 1516.1,1468.3 1520.9,1454.3 1526.1,1456.8 1531.3,1471.4 1536.5,1482.8 1541.7,1485.5 1546.9,1476.2 1552.1,1461.6 1557.3,1458.5 1562.5,1472.4 1567.7,1488.4 1572.9,1490.5 1578.1,1478.0 1583.3,1465.8 1588.5,1461.4 1593.7,1465.8 1598.9,1475.5 1604.1,1484.3 1609.3,1483.9 1614.5,1471.4 1619.0,1460.6 1624.2,1466.2 1629.4,1477.0 1634.6,1477.6 1639.8,1475.1 1645.0,1474.5 1650.2,1470.3 1655.4,1468.9 1660.0,1474.5 1666.0,1477.6 1671.2,1472.8 1676.4,1472.4 1681.6,1477.2 1686.8,1479.1 1692.0,1476.6 1697.2,1470.8 1702.4,1466.6 1707.6,1471.4 1712.8,1478.7 1718.0,1477.0 1723.2,1470.3 1728.4,1470.3 1733.6,1475.5 1738.8,1478.0 1744.0,1476.0 1749.2,1474.1 1754.4,1469.9 1759.6,1463.7 1764.8,1463.1 1770.0,1471.4 1775.2,1483.4 1779.8,1488.4 1785.0,1479.3 1790.2,1464.1 1795.4,1453.3 1800.6,1455.8 1805.8,1468.9 1811.0,1478.0 1816.2,1476.2 1821.4,1473.0 1826.6,1477.2 1831.8,1481.4 1837.0,1481.8 1842.2,1479.3 1846.9,1473.0 1852.1,1467.2 1857.3,1471.4 1862.5,1481.4 1867.7,1487.0 1872.9,1483.9 1878.1,1476.2 1883.3,1471.0 1888.5,1475.5 1893.7,1483.4 1898.9,1484.9 1904.1,1480.1 1909.3,1477.6 1914.5,1477.0 1919.7,1474.9 1924.9,1473.5 1930.1,1473.9 1935.3,1472.0 1940.5,1467.6 1945.7,1468.9 1950.9,1474.9 1956.1,1476.2 1961.3,1473.5 1966.5,1472.4 1971.7,1476.2 1976.9,1482.8 1981.5,1484.9 1986.7,1479.3 1991.9,1473.9 1997.1,1471.4 2002.3,1468.3 2007.5,1465.8 2012.7,1469.3 2017.9,1474.1 2023.1,1472.4 2028.3,1466.8 2033.5,1467.2 2038.7,1474.5 2043.9,1481.4 2048.7,1479.7 2053.9,1472.4 2059.1,1472.0 2064.3,1480.7 2069.5,1489.1 2074.7,1488.0 2079.9,1478.7 2085.1,1471.4 2090.3,1468.3 2095.5,1467.2 2100.7,1468.3 2105.8,1473.5 2111.0,1477.6" fill="none" stroke="#808080" stroke-width="2.08" stroke-linejoin="round" />
<polyline points="304.6,1474.4 322.9,1474.2 331.2,1474.8 338.5,1475.4 345.8,1474.4 354.1,1473.4 362.4,1474.0 370.7,1474.8 383.2,1475.2 393.6,1474.6 404.0,1474.0 414.4,1473.4 422.7,1474.0 428.9,1475.0 435.2,1475.4 445.6,1474.6 456.0,1474.2 464.3,1474.0 472.6,1474.6 478.8,1475.2 487.2,1474.8 497.6,1474.4 508.0,1474.2 514.2,1474.8 519.4,1475.4 528.8,1474.4 539.2,1474.2 545.4,1474.8 551.6,1475.0 559.9,1474.4 570.3,1474.0 580.7,1474.2 591.1,1474.0 599.5,1474.2 604.7,1475.0 609.2,1475.2 616.1,1472.7 621.9,1471.7 627.1,1472.7 632.7,1474.4 637.9,1475.2 643.1,1473.8 649.0,1470.2 653.5,1474.8 658.1,1488.3 663.5,1521.0 668.7,1516.4 673.9,1464.4 678.9,1412.4 684.1,1420.7 689.3,1472.7 694.5,1509.1 699.7,1517.9 704.9,1487.3 710.1,1442.6 715.3,1425.3 720.5,1453.0 725.7,1498.7 730.9,1518.5 735.7,1493.5 740.9,1448.8 746.1,1433.6 751.3,1459.2 756.5,1497.7 761.4,1508.7 766.6,1483.1 771.8,1449.9 777.0,1444.7 782.2,1470.6 787.4,1499.1 792.6,1501.4 797.8,1476.9 803.0,1454.0 808.2,1455.1 813.4,1482.1 818.6,1505.4 823.8,1498.3 828.6,1468.6 833.8,1444.2 839.4,1447.8 844.6,1471.7 849.4,1491.0 854.6,1486.2 859.8,1467.1 865.0,1457.1 870.6,1464.4 875.8,1482.5 880.6,1492.5 885.8,1484.2 891.0,1472.7 896.2,1473.8 901.4,1483.1 906.6,1487.3 911.8,1481.7 917.0,1465.4 922.2,1449.4 926.8,1450.5 932.0,1468.6 937.6,1486.9 942.8,1487.3 947.6,1472.7 952.8,1459.8 958.0,1466.1 963.2,1485.2 968.4,1497.1 973.6,1493.5 978.8,1477.9 984.0,1461.9 989.2,1451.9 994.3,1456.7 999.5,1470.6 1004.7,1480.6 1009.9,1483.5 1014.7,1482.7 1019.9,1480.0 1025.1,1474.8 1030.3,1469.6 1035.3,1467.5 1038.0,1468.6 1043.2,1471.7 1049.5,1476.5 1056.3,1480.6 1061.5,1479.4 1066.7,1474.4 1071.9,1470.2 1077.1,1470.2 1082.3,1471.7 1087.5,1472.7 1092.7,1474.8 1097.9,1479.0 1102.9,1482.7 1108.1,1480.4 1113.3,1473.8 1118.5,1468.2 1123.7,1466.1 1128.9,1467.9 1134.1,1473.8 1139.3,1481.0 1144.5,1484.6 1149.3,1482.1 1154.5,1475.8 1159.7,1470.2 1164.9,1467.1 1170.1,1465.9 1175.3,1466.1 1180.5,1469.0 1185.7,1474.2 1190.5,1477.5 1195.7,1476.9 1200.8,1472.3 1206.0,1468.6 1210.0,1468.2 1216.2,1474.8 1221.4,1481.7 1226.6,1483.7 1231.8,1477.9 1237.0,1470.2 1242.2,1466.5 1247.4,1469.0 1252.6,1475.8 1257.8,1482.1 1263.0,1482.7 1268.2,1477.5 1273.4,1473.1 1278.6,1472.7 1283.8,1475.2 1289.0,1475.8 1294.2,1473.4 1299.4,1469.2 1304.0,1466.9 1309.2,1469.2 1314.4,1475.4 1319.6,1480.6 1324.8,1481.5 1330.0,1477.9 1335.2,1474.2 1340.4,1472.7 1345.6,1472.1 1350.8,1470.6 1356.0,1470.0 1361.8,1470.6 1366.4,1472.1 1371.6,1473.8 1376.8,1475.4 1382.0,1475.8 1387.2,1474.4 1392.4,1472.7 1397.6,1473.4 1402.8,1475.2 1408.0,1475.8 1412.7,1474.4 1417.9,1470.6 1423.1,1470.0 1428.3,1473.8 1433.5,1479.4 1438.7,1483.5 1443.9,1483.1 1449.1,1477.9 1453.7,1472.3 1458.9,1470.2 1464.1,1472.7 1469.3,1475.8 1474.5,1474.8 1479.7,1470.2 1484.9,1467.5 1490.1,1469.6 1495.3,1473.8 1500.5,1476.9 1505.7,1477.9 1510.9,1476.9 1516.1,1474.4 1521.3,1473.8 1526.5,1475.8 1531.7,1477.3 1536.9,1474.8 1541.7,1470.6 1546.9,1469.2 1552.1,1472.3 1557.3,1476.5 1562.5,1478.3 1567.7,1476.9 1572.9,1472.7 1578.1,1469.2 1583.3,1470.6 1588.5,1475.4 1593.7,1478.6 1598.9,1477.5 1604.1,1474.8 1609.3,1473.4 1614.5,1474.8 1619.7,1477.3 1624.9,1478.3 1630.1,1476.5 1635.3,1472.7 1640.5,1470.2 1645.7,1470.2 1650.8,1472.3 1656.0,1474.8 1660.0,1475.4 1665.4,1474.4 1670.6,1473.1 1675.8,1473.8 1681.0,1475.2 1686.2,1475.8 1691.4,1474.8 1696.6,1472.1 1701.8,1470.6 1707.0,1472.1 1712.2,1475.2 1717.4,1477.5 1722.6,1477.9 1727.8,1475.8 1733.0,1473.1 1738.2,1472.3 1743.4,1474.2 1748.6,1476.5 1753.8,1476.9 1759.0,1475.2 1764.2,1473.8 1769.4,1473.8 1774.6,1474.4 1779.8,1474.8 1785.0,1474.4 1790.2,1474.2 1795.4,1474.2 1800.6,1474.8 1805.8,1475.4 1811.0,1476.3 1816.2,1476.3 1821.4,1475.4 1826.6,1475.2 1831.8,1476.3 1837.0,1475.8 1842.2,1473.4 1847.4,1471.3 1852.6,1471.1 1857.8,1473.4 1863.0,1475.8 1867.7,1476.9 1872.9,1475.4 1878.1,1472.3 1883.3,1470.6 1888.5,1472.3 1893.7,1476.3 1898.9,1477.9 1904.1,1474.8 1909.3,1470.6 1913.9,1469.2 1919.1,1470.2 1924.3,1472.7 1929.5,1474.8 1934.7,1475.2 1939.9,1473.4 1945.1,1471.7 1950.3,1472.3 1955.5,1474.8 1960.7,1476.9 1965.9,1476.5 1971.1,1474.8 1976.3,1474.2 1981.5,1474.8 1986.7,1475.8 1991.9,1476.3 1997.1,1475.4 2002.3,1474.8 2007.5,1474.8 2012.7,1475.4 2017.9,1476.3 2023.1,1476.5 2028.3,1474.8 2033.5,1473.8 2038.7,1474.2 2043.9,1475.4 2049.1,1475.8 2054.3,1474.8 2059.5,1473.8 2064.7,1474.2 2069.9,1475.4 2075.1,1475.8 2080.3,1474.8 2085.5,1473.4 2090.7,1472.7 2095.9,1473.8 2102.1,1475.2 2107.3,1476.3 2112.5,1475.8" fill="none" stroke="#808080" stroke-width="2.08" stroke-linejoin="round" />
<polyline points="304.6,1478.1 310.8,1486.4 316.2,1480.8 321.4,1468.3 326.6,1462.5 331.8,1467.7 337.0,1476.7 342.2,1479.8 347.4,1476.7 353.0,1472.5 358.2,1470.2 363.0,1470.4 368.2,1474.4 373.4,1478.7 378.6,1479.2 383.8,1475.6 388.4,1472.3 393.6,1472.3 398.8,1472.5 404.0,1471.5 409.2,1469.8 414.4,1467.7 419.2,1468.3 424.4,1475.0 429.6,1483.3 435.2,1486.4 440.4,1479.2 445.6,1470.2 450.8,1466.7 456.0,1467.3 461.2,1472.5 466.4,1478.7 471.1,1480.8 476.3,1479.2 481.5,1476.0 486.7,1473.5 491.9,1473.3 496.5,1475.0 501.7,1475.6 506.9,1470.4 512.1,1465.2 517.3,1468.1 522.5,1474.0 527.7,1479.6 532.9,1480.6 538.1,1477.1 542.9,1475.6 548.1,1477.5 553.3,1477.1 558.5,1475.0 563.7,1472.3 568.9,1469.4 574.5,1469.8 579.7,1475.6 584.9,1481.2 590.1,1477.1 595.3,1470.2 600.1,1470.8 605.3,1476.5 610.5,1478.7 615.7,1474.0 621.3,1467.7 626.5,1475.0 631.7,1491.6 636.5,1511.0 641.7,1500.6 646.7,1449.0 651.9,1419.5 657.1,1448.0 662.3,1498.5 667.5,1518.7 672.7,1502.0 677.9,1457.3 683.1,1432.0 688.3,1442.1 693.5,1482.3 698.2,1511.0 703.4,1503.1 708.6,1466.7 713.8,1439.2 719.0,1437.6 724.2,1472.9 729.4,1505.2 734.6,1506.2 739.8,1470.8 744.6,1439.2 750.2,1444.9 755.4,1481.2 760.4,1501.6 765.6,1493.7 770.8,1470.8 776.0,1461.5 781.2,1472.9 786.4,1490.2 791.6,1496.2 796.8,1483.3 802.0,1462.5 807.2,1454.6 812.4,1468.8 817.2,1482.7 822.4,1473.5 827.6,1453.2 832.8,1445.5 838.0,1461.5 843.2,1492.7 848.4,1509.3 853.6,1492.1 858.1,1468.1 863.3,1465.2 869.2,1486.4 874.2,1503.5 879.3,1493.3 884.5,1456.3 889.7,1423.4 894.9,1426.6 899.7,1463.6 904.9,1506.8 910.1,1511.8 915.3,1475.6 920.5,1440.3 926.1,1450.7 930.9,1491.6 936.1,1531.2 941.3,1523.9 946.1,1474.0 951.1,1422.4 956.5,1412.6 961.7,1445.9 966.9,1493.3 972.1,1509.9 977.3,1495.8 982.5,1470.8 987.7,1461.9 992.9,1477.1 998.1,1492.3 1003.3,1485.4 1008.5,1458.4 1013.7,1443.4 1019.3,1454.2 1024.1,1485.4 1029.3,1515.6 1034.5,1504.1 1039.7,1464.6 1044.7,1433.4 1049.9,1436.9 1055.1,1467.7 1060.3,1501.0 1065.5,1517.0 1070.7,1509.3 1075.9,1482.7 1080.7,1456.3 1085.8,1446.9 1091.0,1459.0 1096.2,1475.0 1101.4,1483.9 1106.6,1486.9 1111.8,1488.5 1116.6,1485.8 1121.8,1475.6 1127.4,1463.6 1132.2,1462.5 1137.8,1465.6 1143.0,1465.2 1148.2,1464.0 1153.4,1464.0 1158.6,1465.6 1163.8,1469.8 1169.0,1474.4 1174.2,1476.5 1179.4,1476.5 1184.6,1475.0 1189.8,1472.9 1195.0,1472.3 1200.2,1469.8 1205.4,1464.0 1210.0,1463.2 1215.2,1472.9 1220.4,1485.4 1225.6,1492.7 1230.8,1492.1 1236.0,1485.4 1241.2,1481.2 1246.4,1481.7 1251.6,1482.9 1256.1,1482.3 1261.3,1475.6 1266.5,1464.6 1271.7,1461.1 1276.9,1471.9 1282.1,1483.7 1287.3,1485.0 1292.5,1470.8 1297.3,1456.3 1302.5,1453.8 1307.7,1466.7 1312.9,1476.7 1318.1,1469.8 1323.3,1454.2 1328.5,1445.3 1333.7,1455.2 1338.9,1480.2 1344.1,1496.4 1349.3,1491.0 1354.5,1472.5 1359.7,1465.2 1364.9,1474.6 1370.1,1489.6 1375.3,1497.9 1380.5,1493.3 1385.1,1475.0 1390.3,1456.3 1395.5,1453.8 1400.7,1473.3 1405.9,1493.7 1411.1,1494.1 1416.3,1475.6 1421.5,1462.1 1426.7,1464.0 1431.9,1474.6 1437.1,1479.6 1442.3,1471.5 1447.1,1456.9 1452.3,1453.8 1457.9,1469.4 1463.1,1486.4 1468.3,1495.4 1473.5,1491.2 1478.2,1480.2 1483.4,1470.8 1488.6,1468.8 1493.8,1474.6 1499.0,1484.4 1504.2,1481.9 1509.4,1465.6 1514.6,1454.6 1519.8,1466.3 1525.0,1486.4 1530.2,1495.8 1535.4,1486.4 1540.6,1469.4 1545.8,1457.3 1551.0,1459.0 1556.2,1469.8 1561.4,1480.8 1566.6,1485.8 1571.8,1480.8 1576.4,1475.6 1581.6,1478.5 1586.8,1484.8 1592.0,1481.7 1597.2,1470.4 1602.4,1461.9 1607.6,1461.5 1612.8,1469.4 1618.0,1478.1 1623.2,1481.7 1628.4,1480.2 1633.6,1476.7 1638.8,1469.4 1644.0,1462.9 1649.2,1466.3 1654.4,1474.4 1660.0,1476.0 1664.8,1471.5 1669.6,1469.4 1674.8,1470.8 1680.0,1474.4 1685.2,1477.7 1690.4,1478.5 1695.6,1477.1 1700.8,1476.7 1705.9,1475.6 1711.1,1472.3 1716.3,1471.3 1721.5,1474.4 1726.7,1472.3 1731.5,1468.1 1736.7,1472.9 1742.3,1479.2 1747.5,1478.7 1752.7,1474.6 1757.9,1472.3 1763.1,1472.9 1768.3,1475.6 1773.5,1478.1 1778.7,1479.8 1783.9,1479.2 1789.1,1477.5 1794.3,1478.5 1799.1,1482.3 1804.3,1484.4 1809.5,1479.6 1814.7,1470.4 1819.9,1465.2 1825.1,1468.1 1830.3,1474.6 1835.5,1477.7 1840.7,1477.1 1845.3,1475.0 1850.5,1467.7 1855.7,1460.9 1860.9,1466.1 1866.1,1476.7 1871.3,1479.6 1876.5,1475.6 1881.7,1476.0 1886.9,1478.1 1892.1,1475.6 1897.3,1470.4 1902.5,1467.3 1907.7,1466.7 1912.9,1465.6 1918.1,1468.1 1923.3,1474.0 1928.5,1476.7 1933.7,1474.4 1938.9,1471.9 1944.1,1472.9 1949.3,1477.1 1954.5,1481.7 1959.7,1482.7 1964.9,1477.7 1970.1,1470.4 1975.3,1468.3 1980.0,1476.7 1985.2,1486.4 1990.4,1488.1 1995.6,1480.2 2000.8,1472.9 2006.0,1469.8 2011.2,1472.3 2016.4,1479.2 2021.6,1482.3 2026.8,1474.6 2032.0,1465.0 2037.2,1462.1 2042.4,1472.9 2047.0,1485.8 2052.2,1486.4 2057.4,1471.9 2062.6,1461.5 2067.8,1461.1 2073.0,1470.4 2078.2,1482.9 2083.4,1489.6 2088.6,1482.7 2093.8,1468.3 2099.0,1460.9 2104.2,1464.2 2109.4,1471.3 2112.5,1473.5" fill="none" stroke="#808080" stroke-width="2.08" stroke-linejoin="round" />
<polyline points="304.6,1477.7 311.9,1477.9 317.1,1472.7 322.3,1460.2 327.5,1464.8 332.6,1483.1 337.8,1486.2 343.0,1477.3 348.2,1474.8 353.4,1473.1 358.6,1465.2 363.8,1463.3 369.0,1472.1 374.2,1473.7 379.0,1463.8 384.2,1466.9 389.4,1482.1 395.0,1489.3 400.2,1485.2 405.4,1477.9 410.6,1470.4 415.8,1469.0 421.0,1475.2 425.8,1479.8 431.0,1477.7 436.2,1474.6 441.4,1473.1 446.6,1473.7 451.8,1482.5 457.0,1491.2 462.2,1478.7 467.0,1459.2 472.2,1453.4 477.4,1464.8 482.6,1476.9 487.8,1486.2 493.0,1486.6 498.2,1472.1 502.8,1457.5 508.0,1460.6 513.2,1478.3 518.8,1492.9 524.0,1489.8 528.8,1471.0 534.0,1454.0 539.2,1461.3 544.3,1483.1 549.5,1497.0 554.7,1489.1 559.9,1473.1 565.1,1466.9 570.3,1467.3 575.5,1470.0 580.7,1475.2 585.9,1475.8 591.1,1471.5 596.3,1470.0 601.5,1474.2 606.3,1480.4 611.5,1478.9 616.7,1470.0 621.9,1462.1 627.1,1460.6 632.3,1472.1 637.5,1488.1 642.7,1489.1 647.9,1472.1 653.5,1459.6 658.1,1485.6 663.3,1513.3 668.5,1513.7 673.7,1466.9 678.9,1421.5 684.1,1429.5 689.3,1478.3 694.5,1508.5 699.7,1519.9 704.9,1481.4 710.1,1430.5 715.3,1412.8 720.5,1451.3 725.7,1511.2 730.9,1533.0 735.7,1487.7 740.9,1431.5 746.1,1428.4 751.3,1481.4 756.0,1521.6 761.4,1520.3 766.6,1479.4 771.8,1437.4 777.0,1415.9 782.2,1448.2 787.4,1501.2 792.6,1515.8 797.8,1476.2 803.0,1434.2 808.2,1435.1 813.4,1484.1 818.6,1531.3 823.8,1521.6 828.6,1472.1 833.8,1435.3 839.4,1441.5 844.6,1476.2 849.4,1501.2 854.6,1504.3 859.8,1475.8 865.0,1447.1 870.2,1451.9 875.4,1496.0 880.6,1523.7 885.8,1502.9 891.0,1457.5 896.2,1443.0 901.4,1464.8 906.0,1493.3 911.6,1502.2 916.8,1476.7 921.6,1435.7 926.8,1426.7 932.4,1470.0 937.6,1508.5 942.8,1516.2 947.6,1479.4 952.8,1441.5 958.0,1445.7 963.2,1479.4 968.4,1505.4 973.6,1506.8 978.8,1485.6 984.0,1451.7 989.2,1434.2 994.3,1454.4 999.5,1487.1 1004.7,1501.6 1009.9,1496.0 1014.7,1480.4 1019.9,1463.3 1025.1,1457.9 1030.3,1459.0 1035.5,1458.1 1040.7,1462.7 1045.3,1477.3 1050.5,1492.9 1056.7,1489.8 1061.5,1479.4 1066.7,1470.4 1071.9,1463.8 1077.1,1459.6 1082.1,1460.0 1087.3,1475.2 1092.5,1489.1 1097.7,1481.4 1102.5,1463.3 1107.7,1452.7 1112.9,1463.8 1118.1,1484.6 1123.3,1486.6 1128.5,1476.2 1133.7,1476.9 1138.9,1482.1 1144.1,1477.9 1148.9,1477.7 1154.1,1483.5 1159.3,1472.5 1164.5,1450.2 1169.7,1449.2 1174.9,1465.8 1180.1,1478.7 1185.3,1482.9 1190.5,1473.7 1195.7,1458.1 1200.8,1456.5 1205.4,1473.1 1210.0,1488.7 1216.2,1490.4 1221.4,1478.7 1226.6,1459.6 1231.8,1449.2 1237.0,1464.8 1242.2,1486.6 1247.4,1494.5 1252.6,1487.7 1257.8,1476.2 1263.0,1473.5 1268.2,1480.4 1272.8,1488.3 1278.0,1488.1 1283.2,1478.9 1288.4,1470.4 1293.6,1473.1 1298.8,1487.1 1304.0,1491.2 1309.2,1476.2 1314.0,1462.3 1319.2,1462.7 1324.4,1469.0 1329.6,1473.1 1334.8,1474.2 1340.0,1474.6 1345.2,1471.5 1350.4,1462.1 1355.6,1454.8 1360.8,1460.6 1365.9,1476.2 1371.1,1483.5 1376.3,1477.9 1381.5,1472.7 1386.7,1474.2 1391.9,1480.8 1397.1,1490.8 1402.3,1492.3 1406.9,1474.6 1412.1,1460.0 1417.3,1468.3 1422.5,1477.3 1427.7,1471.5 1432.9,1469.6 1438.1,1473.1 1443.3,1470.0 1448.5,1469.4 1453.7,1482.5 1458.9,1491.4 1464.1,1479.4 1469.3,1465.4 1474.5,1467.5 1479.7,1476.9 1484.9,1479.4 1490.1,1477.3 1495.3,1474.2 1500.5,1471.0 1505.7,1469.6 1510.9,1466.9 1516.1,1471.0 1520.9,1489.1 1526.1,1496.6 1531.3,1475.2 1536.5,1452.9 1541.7,1460.0 1546.9,1482.1 1552.1,1487.1 1557.3,1474.2 1562.5,1463.8 1567.7,1461.1 1572.9,1466.5 1578.1,1479.4 1583.3,1487.3 1588.5,1483.1 1593.7,1470.0 1598.2,1461.3 1603.4,1469.4 1608.6,1485.6 1613.8,1493.5 1619.0,1486.6 1624.2,1472.5 1629.4,1464.8 1634.6,1470.6 1639.8,1481.4 1645.0,1485.2 1650.2,1474.2 1655.4,1458.6 1660.0,1456.1 1666.0,1474.8 1671.2,1491.8 1676.4,1493.3 1681.6,1473.7 1686.8,1458.6 1692.0,1460.0 1697.2,1469.0 1702.4,1476.9 1707.6,1475.2 1712.8,1464.4 1718.0,1462.3 1723.2,1472.1 1728.4,1478.9 1733.0,1481.4 1738.2,1478.9 1743.4,1470.0 1748.6,1464.8 1753.8,1473.1 1759.0,1481.4 1763.8,1478.3 1769.0,1469.4 1774.2,1471.5 1779.4,1478.7 1784.6,1480.4 1789.8,1477.7 1795.0,1474.8 1800.2,1468.5 1805.4,1464.4 1810.6,1474.6 1815.8,1486.0 1820.9,1487.7 1826.1,1482.1 1831.3,1474.2 1836.5,1465.2 1841.7,1459.6 1846.9,1466.5 1851.5,1482.1 1856.7,1486.2 1861.9,1472.1 1867.1,1463.8 1872.3,1471.5 1877.5,1478.9 1882.7,1479.8 1887.9,1478.3 1893.1,1477.9 1898.3,1476.2 1903.5,1471.5 1908.7,1472.1 1913.9,1480.0 1919.1,1482.5 1924.3,1475.2 1929.5,1467.5 1934.7,1466.3 1939.9,1473.7 1945.1,1475.6 1950.3,1465.4 1955.5,1463.3 1960.3,1472.7 1965.5,1477.3 1970.7,1483.1 1975.9,1490.8 1981.1,1483.5 1986.3,1464.8 1991.5,1456.5 1996.7,1471.0 2001.9,1489.1 2007.1,1492.9 2012.3,1481.4 2017.5,1470.4 2022.7,1463.8 2027.9,1467.9 2033.1,1478.3 2038.3,1481.4 2043.5,1477.3 2048.7,1472.7 2053.2,1469.0 2058.4,1469.0 2063.6,1478.9 2068.8,1484.1 2074.0,1473.7 2079.2,1461.7 2084.4,1463.8 2089.6,1474.8 2094.8,1477.9 2100.0,1472.7 2105.2,1468.3 2110.4,1466.9 2112.5,1466.9" fill="none" stroke="#808080" stroke-width="2.08" stroke-linejoin="round" />
<polyline points="304.6,1475.3 309.4,1475.7 314.6,1473.7 319.8,1472.6 325.0,1474.1 330.2,1475.7 335.4,1476.2 340.6,1475.3 345.8,1474.7 350.9,1473.7 356.1,1474.3 361.3,1475.7 366.5,1475.7 371.7,1472.2 376.9,1469.9 382.1,1471.2 387.3,1474.7 392.5,1476.4 397.7,1476.2 402.9,1474.3 408.1,1472.0 413.3,1471.2 418.5,1474.3 423.7,1479.3 428.9,1479.9 434.1,1474.7 439.3,1469.9 444.5,1470.5 449.7,1474.3 454.9,1477.2 460.1,1477.8 465.3,1475.1 470.5,1471.6 475.7,1471.0 480.9,1474.3 486.1,1477.4 491.3,1475.7 496.5,1471.6 501.7,1469.9 506.9,1471.6 512.1,1475.3 517.3,1477.2 522.5,1476.4 528.8,1475.3 534.0,1475.1 539.2,1474.3 544.3,1473.7 549.5,1474.1 554.7,1475.1 559.9,1475.3 565.1,1473.3 570.3,1470.5 574.5,1470.1 579.7,1474.1 584.9,1477.2 590.1,1476.8 595.3,1472.6 600.5,1470.5 605.7,1471.2 610.9,1472.0 616.1,1472.0 621.3,1472.2 626.5,1474.7 631.7,1476.8 636.9,1475.7 642.1,1472.6 647.3,1469.1 651.4,1468.1 656.0,1484.1 661.2,1509.0 666.4,1529.4 671.6,1502.8 676.8,1442.5 682.0,1412.3 687.2,1436.2 692.4,1478.9 697.6,1510.1 702.8,1511.5 708.0,1471.6 713.2,1431.5 718.4,1429.4 723.6,1469.5 728.8,1506.9 734.0,1510.7 738.8,1477.8 744.0,1444.1 749.2,1445.2 754.4,1475.7 759.6,1501.7 764.6,1494.0 769.8,1462.9 775.0,1445.0 780.2,1453.9 785.4,1486.8 790.1,1506.9 795.3,1494.9 800.5,1464.3 805.7,1448.1 810.9,1466.4 816.1,1495.1 821.3,1503.2 826.5,1480.9 831.7,1453.9 836.9,1451.4 842.1,1470.1 847.3,1487.8 851.9,1485.5 857.1,1466.4 862.3,1453.5 867.9,1461.2 873.1,1484.1 878.3,1499.0 883.1,1490.3 888.3,1467.4 893.5,1453.5 898.7,1461.2 903.9,1486.8 909.1,1501.3 914.3,1488.2 919.5,1459.1 924.7,1442.9 929.9,1452.9 935.1,1475.3 939.9,1489.3 945.1,1486.6 950.3,1471.6 955.5,1461.8 960.7,1468.9 965.9,1490.3 971.1,1504.2 976.3,1492.4 981.5,1471.2 986.7,1457.7 991.9,1457.0 997.1,1463.7 1002.3,1470.1 1007.5,1472.2 1013.1,1472.2 1019.3,1474.7 1024.1,1477.8 1028.0,1477.2 1033.2,1473.3 1038.4,1470.5 1043.6,1471.2 1048.8,1475.7 1054.0,1479.9 1059.2,1480.9 1064.4,1478.4 1069.6,1475.3 1074.8,1474.7 1080.0,1475.7 1084.8,1475.1 1090.0,1471.6 1095.2,1469.5 1100.4,1470.5 1105.6,1474.3 1110.8,1477.8 1116.0,1478.2 1121.2,1474.3 1126.4,1469.5 1131.6,1468.1 1136.8,1472.6 1142.0,1482.0 1146.8,1487.8 1152.0,1485.1 1157.2,1476.8 1162.4,1470.1 1167.6,1468.5 1172.8,1469.5 1178.0,1470.5 1183.2,1471.0 1188.4,1470.5 1193.6,1469.1 1198.8,1467.8 1204.0,1467.4 1210.0,1468.9 1215.6,1472.6 1220.8,1476.4 1226.0,1479.3 1229.1,1480.3 1234.3,1478.4 1239.5,1473.7 1244.7,1470.1 1249.9,1471.2 1255.1,1475.7 1260.3,1480.9 1265.5,1485.1 1270.7,1484.5 1275.9,1479.9 1281.1,1476.8 1286.3,1477.8 1291.5,1481.4 1296.7,1480.9 1301.9,1475.7 1307.1,1469.9 1312.3,1467.8 1317.5,1470.1 1322.7,1474.7 1327.9,1477.2 1333.1,1475.3 1338.3,1471.6 1343.5,1470.5 1348.7,1471.2 1353.5,1470.1 1358.7,1465.3 1363.9,1462.2 1369.1,1464.9 1374.3,1471.2 1379.5,1477.4 1384.7,1480.3 1389.9,1477.2 1395.1,1471.0 1400.3,1468.1 1405.5,1471.0 1410.7,1477.8 1415.9,1484.5 1421.1,1484.1 1426.3,1476.8 1431.5,1471.2 1436.7,1473.3 1441.9,1479.9 1447.1,1484.1 1452.3,1480.9 1457.5,1474.3 1462.0,1471.0 1467.2,1472.2 1472.4,1475.3 1477.6,1476.2 1482.8,1473.0 1488.0,1469.5 1493.2,1469.1 1498.4,1472.6 1503.6,1476.4 1508.8,1477.2 1514.0,1473.7 1519.2,1470.1 1524.4,1470.1 1529.6,1473.7 1534.8,1477.4 1540.0,1476.8 1545.2,1473.3 1550.4,1470.1 1555.6,1470.1 1560.8,1474.1 1566.0,1477.8 1571.2,1476.8 1576.4,1473.0 1581.6,1471.0 1586.8,1472.2 1592.0,1475.3 1597.2,1478.9 1602.4,1479.9 1607.6,1476.2 1612.8,1471.2 1618.0,1469.5 1623.2,1471.2 1628.4,1472.6 1633.6,1471.0 1638.8,1468.5 1644.0,1468.1 1649.2,1470.5 1654.4,1474.1 1660.0,1476.4 1665.4,1476.2 1670.6,1474.7 1675.8,1474.7 1681.0,1476.8 1686.2,1477.8 1691.4,1476.2 1696.6,1472.0 1701.8,1469.9 1707.0,1471.6 1712.2,1475.3 1717.4,1476.4 1722.6,1473.7 1727.8,1469.9 1733.0,1469.1 1738.2,1472.2 1743.4,1476.8 1748.6,1478.4 1753.8,1476.4 1759.0,1472.2 1764.2,1470.5 1769.4,1472.6 1774.6,1476.8 1779.8,1479.3 1785.0,1477.8 1790.2,1473.7 1795.4,1471.6 1800.6,1473.7 1805.8,1476.8 1811.0,1477.8 1816.2,1475.1 1821.4,1472.6 1826.6,1473.7 1831.8,1477.2 1837.0,1478.4 1842.2,1475.7 1847.4,1471.6 1852.6,1469.1 1857.8,1470.1 1863.0,1474.3 1868.2,1476.4 1873.4,1474.1 1878.6,1471.0 1883.8,1470.1 1889.0,1473.7 1894.2,1478.4 1899.3,1478.9 1904.5,1474.1 1909.7,1469.5 1914.9,1468.9 1920.1,1472.2 1925.3,1476.4 1930.5,1477.2 1935.7,1472.6 1940.9,1468.9 1946.1,1469.1 1951.3,1472.2 1956.5,1475.7 1961.7,1476.4 1966.9,1473.7 1972.1,1470.5 1977.3,1470.5 1982.5,1473.7 1987.7,1476.4 1992.9,1476.8 1998.1,1475.7 2003.3,1474.7 2008.5,1475.3 2013.7,1477.8 2018.9,1479.9 2024.1,1477.2 2029.3,1473.0 2034.5,1471.6 2039.7,1474.1 2044.9,1477.8 2050.1,1479.3 2055.3,1477.2 2060.5,1473.7 2065.7,1471.6 2070.9,1473.0 2076.1,1475.3 2081.3,1476.2 2086.5,1473.7 2091.7,1471.2 2096.9,1471.6 2102.1,1474.3 2107.3,1476.2 2112.5,1474.7" fill="none" stroke="#808080" stroke-width="2.08" stroke-linejoin="round" />
<polyline points="304.6,1475.9 308.3,1470.7 312.5,1466.6 317.1,1464.1 321.8,1468.7 327.0,1479.7 332.2,1488.0 337.4,1483.2 342.6,1471.4 347.8,1467.0 353.0,1470.3 358.2,1474.9 363.4,1475.9 368.6,1474.3 373.8,1472.4 379.0,1472.2 384.2,1474.9 389.4,1477.6 394.6,1479.1 399.8,1478.4 405.0,1474.5 410.2,1471.2 415.4,1471.8 420.6,1472.2 425.8,1470.1 431.0,1469.3 436.2,1472.4 441.4,1475.3 446.6,1474.9 451.8,1471.8 457.0,1469.7 462.2,1471.4 467.4,1475.5 472.6,1478.4 477.8,1476.6 483.0,1474.3 488.2,1471.4 493.4,1468.2 497.6,1468.2 502.8,1475.9 508.0,1481.8 513.2,1481.1 518.4,1478.0 523.6,1473.2 528.8,1469.7 534.0,1471.4 539.2,1478.0 544.3,1481.6 549.5,1479.1 554.7,1473.9 559.9,1470.7 565.1,1469.7 570.3,1468.7 575.5,1470.3 580.7,1475.3 585.9,1478.6 591.1,1478.6 596.3,1475.9 601.5,1471.4 606.7,1467.6 611.5,1468.0 616.7,1473.2 621.9,1476.4 627.1,1476.4 632.3,1477.0 637.5,1475.9 642.7,1470.7 647.7,1466.6 652.9,1474.9 658.1,1503.0 663.3,1526.3 668.5,1512.3 673.7,1459.3 678.9,1412.5 684.1,1422.3 689.3,1469.7 694.5,1503.0 699.3,1516.9 704.5,1494.7 709.7,1453.1 714.9,1421.3 720.1,1440.6 725.3,1485.3 730.1,1525.2 735.3,1507.1 740.5,1457.2 745.7,1438.1 750.8,1461.4 756.0,1493.6 761.0,1500.5 766.2,1482.2 771.4,1454.1 776.6,1438.9 781.8,1454.1 787.0,1486.3 792.2,1497.2 797.4,1477.6 802.6,1460.3 807.8,1467.0 813.0,1492.6 818.2,1505.1 823.4,1493.2 828.6,1462.4 833.8,1443.7 839.0,1456.8 844.2,1481.1 849.4,1492.6 854.6,1485.3 859.8,1468.7 864.4,1457.2 869.6,1467.2 874.8,1497.8 880.0,1518.2 885.2,1503.0 890.4,1463.5 895.6,1428.7 900.8,1431.2 905.6,1456.2 910.8,1472.8 915.9,1480.7 921.1,1486.8 926.3,1487.8 931.5,1479.7 936.7,1475.9 941.9,1484.9 947.1,1488.8 952.3,1479.1 957.5,1471.2 962.7,1477.0 967.9,1480.1 973.1,1464.5 978.3,1444.7 983.5,1450.6 988.7,1482.8 993.9,1501.9 999.1,1492.6 1004.3,1471.4 1009.3,1457.2 1014.1,1449.9 1019.7,1457.2 1024.9,1474.9 1030.1,1488.8 1035.3,1488.4 1040.5,1477.4 1045.7,1471.8 1050.5,1477.0 1055.7,1481.6 1060.9,1477.4 1066.1,1468.2 1071.3,1464.1 1076.5,1470.1 1081.7,1480.1 1086.9,1484.3 1092.1,1478.4 1097.3,1465.1 1102.5,1459.9 1107.3,1471.8 1112.5,1487.8 1117.7,1492.0 1122.9,1481.8 1128.1,1466.6 1133.3,1462.8 1138.5,1475.9 1143.7,1488.4 1148.9,1489.5 1154.1,1473.9 1159.3,1457.9 1164.5,1451.6 1169.7,1458.3 1174.9,1470.7 1180.1,1476.4 1185.3,1474.3 1189.8,1473.4 1195.0,1479.1 1200.2,1484.9 1205.4,1486.3 1210.0,1478.0 1215.6,1462.4 1220.8,1455.6 1226.0,1461.8 1231.2,1475.9 1236.4,1488.0 1241.6,1485.3 1246.8,1473.2 1252.0,1467.0 1257.2,1473.2 1262.4,1485.3 1267.2,1489.0 1272.4,1477.4 1277.6,1464.1 1282.8,1461.0 1288.0,1471.4 1293.2,1484.3 1298.4,1490.1 1303.6,1482.2 1308.8,1469.7 1314.0,1461.8 1319.2,1462.8 1324.4,1471.2 1329.6,1477.4 1334.8,1476.6 1340.0,1474.5 1345.2,1472.8 1350.4,1471.4 1355.6,1470.7 1360.8,1471.2 1365.9,1470.7 1371.1,1471.2 1376.3,1474.5 1381.5,1478.4 1386.7,1479.5 1391.9,1473.9 1396.5,1466.2 1401.7,1463.9 1406.9,1468.2 1412.1,1477.4 1417.3,1486.8 1422.5,1487.4 1427.7,1478.6 1432.9,1473.2 1438.1,1474.9 1443.3,1477.0 1448.5,1473.9 1453.7,1469.7 1458.5,1467.6 1463.7,1470.7 1468.9,1475.9 1474.1,1480.7 1479.3,1480.1 1484.5,1473.9 1489.7,1468.2 1494.9,1468.2 1500.1,1473.2 1505.3,1478.6 1510.5,1478.0 1515.7,1473.9 1520.9,1473.9 1526.1,1477.4 1531.3,1481.8 1535.8,1484.3 1541.0,1480.1 1546.2,1468.7 1551.4,1458.7 1556.6,1459.7 1561.8,1468.7 1567.0,1477.0 1572.2,1478.0 1577.4,1471.8 1582.6,1468.2 1587.8,1473.9 1593.0,1481.6 1598.2,1483.2 1603.4,1478.6 1608.6,1472.8 1613.8,1469.7 1619.0,1472.4 1624.2,1478.4 1629.4,1480.7 1634.6,1478.0 1639.8,1473.9 1645.0,1470.3 1650.2,1469.1 1655.4,1470.7 1660.0,1473.4 1665.4,1471.8 1670.6,1469.7 1675.8,1472.4 1681.0,1476.4 1686.2,1477.4 1691.4,1473.9 1696.6,1471.8 1701.8,1474.9 1707.0,1479.1 1712.2,1481.1 1717.4,1479.1 1722.6,1476.4 1727.8,1474.9 1733.0,1472.4 1738.2,1469.3 1743.4,1470.3 1748.6,1474.3 1753.8,1473.9 1759.0,1469.7 1763.1,1467.6 1768.3,1471.4 1773.5,1479.5 1778.3,1481.1 1783.5,1477.0 1789.1,1473.2 1794.3,1472.8 1799.5,1474.3 1804.7,1475.3 1809.9,1475.9 1815.1,1474.9 1820.3,1472.4 1825.5,1470.7 1830.7,1471.4 1835.9,1472.8 1841.1,1475.5 1846.3,1478.0 1851.5,1477.4 1856.7,1474.9 1861.9,1474.5 1867.1,1474.3 1872.3,1471.8 1877.5,1468.7 1882.3,1468.0 1887.5,1472.4 1892.7,1478.0 1897.9,1480.1 1903.1,1476.6 1908.3,1471.2 1913.5,1469.1 1918.7,1470.3 1923.9,1471.8 1929.1,1471.8 1934.3,1470.7 1939.5,1470.1 1944.7,1470.3 1949.9,1471.8 1955.1,1474.5 1960.3,1478.6 1965.5,1482.2 1970.7,1481.8 1975.9,1475.3 1981.1,1469.1 1986.3,1469.7 1991.5,1477.0 1996.7,1483.2 2001.9,1484.3 2007.1,1480.1 2012.3,1472.8 2017.5,1467.2 2022.7,1469.3 2027.9,1478.6 2032.4,1484.9 2037.6,1482.2 2042.8,1471.8 2048.0,1462.8 2053.2,1461.8 2058.4,1469.3 2063.6,1476.6 2068.8,1479.5 2074.0,1478.6 2079.2,1475.5 2084.4,1470.3 2089.6,1467.2 2094.8,1468.2 2100.0,1473.9 2105.2,1480.1 2110.4,1481.8 2112.5,1480.1" fill="none" stroke="#808080" stroke-width="2.08" stroke-linejoin="round" />
<polyline points="304.6,1481.1 310.4,1475.5 316.2,1469.2 321.8,1465.7 327.0,1469.7 332.2,1479.2 337.4,1482.8 348.2,1470.9 353.7,1468.4 358.6,1469.2 368.6,1465.1 378.6,1488.0 389.0,1469.7 399.2,1489.4 409.6,1463.0 415.0,1469.2 420.0,1480.7 424.8,1469.2 430.0,1447.0 435.6,1454.7 440.4,1481.7 446.0,1491.5 456.0,1454.3 461.2,1457.4 466.4,1469.7 471.6,1472.0 476.8,1469.2 482.0,1473.4 487.2,1478.6 492.4,1470.3 497.6,1457.4 502.8,1469.2 507.5,1490.0 512.7,1485.5 517.9,1465.1 523.1,1462.0 528.3,1472.0 533.5,1474.4 538.7,1471.7 543.9,1478.2 549.1,1488.4 554.1,1480.7 559.3,1465.5 564.5,1463.4 569.7,1470.3 574.9,1474.9 580.1,1472.0 585.3,1460.9 590.5,1456.8 600.5,1489.0 605.7,1477.6 610.9,1457.8 616.1,1455.7 621.3,1469.2 626.5,1480.1 631.7,1475.1 636.9,1472.4 642.1,1478.2 647.3,1481.1 652.5,1483.2 657.7,1495.2 662.9,1510.8 668.1,1503.6 673.3,1463.0 678.5,1423.9 683.7,1428.1 688.5,1463.0 693.7,1498.4 698.9,1508.3 704.1,1496.3 709.3,1462.0 714.5,1432.2 719.7,1445.7 724.9,1502.5 730.1,1536.2 735.3,1512.9 740.2,1463.0 745.4,1440.1 750.6,1459.3 755.4,1495.2 760.8,1508.3 766.2,1492.1 770.8,1467.6 776.0,1452.6 781.2,1452.6 786.4,1474.4 791.6,1499.0 797.2,1495.9 802.0,1465.5 807.2,1456.4 812.4,1485.9 817.6,1514.4 822.8,1496.3 827.6,1457.8 833.2,1443.3 838.4,1460.9 843.6,1484.8 848.8,1497.9 854.0,1494.8 858.8,1473.4 864.0,1450.1 869.0,1456.1 874.2,1483.4 879.6,1496.7 884.8,1481.7 889.7,1454.7 894.9,1439.7 900.1,1450.5 905.3,1477.2 910.5,1490.0 915.7,1474.4 920.9,1453.7 926.1,1453.7 931.3,1477.6 936.5,1500.4 941.7,1500.4 946.9,1475.5 951.7,1449.5 956.9,1433.5 962.1,1449.5 967.3,1489.0 972.5,1511.5 977.7,1485.9 982.9,1459.9 988.1,1464.0 993.3,1480.1 998.5,1479.0 1003.7,1467.2 1008.9,1455.7 1013.7,1448.9 1019.3,1458.9 1024.5,1483.8 1029.3,1497.9 1034.5,1489.0 1039.7,1471.3 1044.9,1455.7 1050.1,1457.4 1055.3,1474.4 1060.5,1489.4 1065.7,1491.3 1070.9,1473.4 1075.9,1452.0 1081.1,1454.7 1086.3,1479.2 1091.5,1488.0 1096.7,1480.3 1101.9,1478.6 1107.1,1478.0 1112.3,1472.0 1117.5,1473.0 1122.2,1474.9 1127.4,1465.7 1132.6,1462.0 1137.8,1472.0 1143.0,1479.6 1148.2,1477.2 1153.4,1469.7 1158.6,1470.9 1163.8,1480.7 1169.0,1485.3 1174.2,1480.7 1179.4,1474.9 1184.6,1467.6 1189.8,1460.5 1194.6,1460.9 1200.2,1475.5 1205.4,1486.9 1210.0,1488.4 1215.6,1479.6 1220.8,1472.4 1226.0,1467.2 1231.2,1466.8 1236.4,1478.6 1241.2,1490.7 1246.4,1492.5 1251.6,1487.3 1256.6,1476.5 1261.8,1467.2 1267.0,1472.4 1272.2,1475.1 1277.4,1466.8 1282.6,1468.2 1287.8,1475.9 1293.0,1475.9 1298.2,1476.9 1303.4,1484.4 1308.6,1485.9 1313.8,1475.5 1319.0,1464.5 1324.2,1460.9 1329.3,1472.4 1334.5,1489.6 1339.3,1499.0 1344.5,1492.1 1349.7,1473.4 1354.9,1460.9 1360.1,1470.7 1365.3,1484.4 1370.5,1479.6 1375.7,1470.9 1380.9,1470.3 1386.1,1473.4 1391.3,1476.1 1396.5,1473.4 1401.3,1470.3 1406.5,1475.1 1411.7,1476.1 1416.9,1470.7 1422.1,1472.4 1427.3,1479.6 1432.5,1479.6 1437.7,1474.9 1442.9,1475.1 1448.1,1475.5 1453.3,1472.0 1458.5,1472.0 1463.7,1477.2 1468.9,1480.1 1474.1,1475.9 1479.3,1469.2 1484.5,1463.6 1489.7,1461.3 1494.9,1472.4 1499.5,1484.4 1504.7,1479.6 1509.9,1462.0 1515.1,1460.9 1520.3,1479.2 1525.5,1485.3 1530.7,1471.3 1535.8,1462.0 1541.0,1461.6 1546.2,1463.0 1551.4,1473.8 1556.2,1490.0 1561.8,1489.0 1566.6,1470.3 1571.8,1463.0 1577.0,1478.0 1582.2,1484.2 1587.4,1479.6 1592.6,1477.2 1597.8,1468.2 1603.0,1454.7 1608.2,1454.1 1613.4,1468.8 1618.6,1479.2 1623.8,1475.1 1628.4,1466.1 1634.0,1474.9 1638.8,1489.4 1644.0,1485.3 1649.2,1472.0 1654.4,1472.4 1659.6,1476.9 1664.8,1469.2 1670.0,1460.9 1675.2,1474.9 1680.4,1495.9 1685.6,1491.1 1690.8,1471.7 1696.0,1463.4 1701.2,1468.8 1706.4,1479.2 1711.6,1482.3 1716.3,1475.1 1721.5,1463.6 1726.7,1464.0 1731.9,1475.9 1737.1,1482.3 1742.3,1476.9 1747.5,1468.2 1752.7,1464.0 1757.9,1470.9 1763.1,1480.7 1768.3,1482.1 1773.5,1479.0 1778.7,1479.2 1783.9,1480.3 1789.1,1479.6 1794.3,1477.6 1799.5,1469.9 1804.3,1466.5 1809.5,1479.6 1814.7,1486.3 1819.9,1477.2 1825.1,1470.7 1830.3,1472.0 1835.5,1476.1 1840.7,1479.0 1845.9,1479.6 1851.1,1483.8 1856.3,1484.2 1861.5,1473.8 1866.7,1465.1 1871.9,1462.0 1877.1,1464.5 1881.7,1480.3 1886.9,1492.1 1892.1,1472.4 1897.3,1452.6 1902.5,1462.0 1907.7,1481.7 1912.9,1487.5 1918.1,1480.1 1923.3,1467.2 1928.5,1456.8 1933.7,1458.4 1938.9,1466.8 1944.1,1476.5 1948.8,1486.5 1954.0,1486.9 1959.2,1473.4 1964.4,1459.9 1969.6,1457.2 1974.8,1474.4 1980.0,1492.1 1985.2,1486.9 1990.4,1471.3 1995.6,1466.8 2000.8,1465.1 2006.0,1468.2 2011.2,1475.9 2016.4,1471.3 2021.6,1456.1 2026.8,1456.1 2031.4,1475.5 2036.6,1490.0 2041.8,1476.5 2047.0,1462.6 2052.2,1468.2 2057.4,1486.9 2062.6,1494.8 2067.8,1489.0 2073.0,1476.9 2078.2,1464.7 2083.4,1457.4 2088.6,1467.2 2093.8,1485.9 2099.0,1496.3 2104.2,1490.5 2109.4,1479.2 2112.5,1476.9" fill="none" stroke="#0000ff" stroke-width="2.08" stroke-linejoin="round" />
<polyline points="304.6,248.0 310.4,242.4 316.2,236.1 321.8,232.6 327.0,236.6 332.2,246.1 337.4,249.7 348.2,237.8 353.7,235.3 358.6,236.1 368.6,232.0 378.6,254.9 389.0,236.6 399.2,256.3 409.6,229.9 415.0,236.1 420.0,247.6 424.8,236.1 430.0,213.9 435.6,221.6 440.4,248.6 446.0,258.4 456.0,221.2 461.2,224.3 466.4,236.6 471.6,238.9 476.8,236.1 482.0,240.3 487.2,245.5 492.4,237.2 497.6,224.3 502.8,236.1 507.5,256.9 512.7,252.4 517.9,232.0 523.1,228.9 528.3,238.9 533.5,241.3 538.7,238.6 543.9,245.1 549.1,255.3 554.1,247.6 559.3,232.4 564.5,230.3 569.7,237.2 574.9,241.8 580.1,238.9 585.3,227.8 590.5,223.7 600.5,255.9 605.7,244.5 610.9,224.7 616.1,222.6 621.3,236.1 626.5,247.0 631.7,242.0 636.9,239.3 642.1,245.1 647.3,248.0 652.5,250.1 657.7,262.1 662.9,277.7 668.1,270.5 673.3,229.9 678.5,190.8 683.7,195.0 688.5,229.9 693.7,265.3 698.9,275.2 704.1,263.2 709.3,228.9 714.5,199.1 719.7,212.6 724.9,269.4 730.1,303.1 735.3,279.8 740.2,229.9 745.4,207.0 750.6,226.2 755.4,262.1 760.8,275.2 766.2,259.0 770.8,234.5 776.0,219.5 781.2,219.5 786.4,241.3 791.6,265.9 797.2,262.8 802.0,232.4 807.2,223.3 812.4,252.8 817.6,281.3 822.8,263.2 827.6,224.7 833.2,210.2 838.4,227.8 843.6,251.7 848.8,264.8 854.0,261.7 858.8,240.3 864.0,217.0 869.0,223.0 874.2,250.3 879.6,263.6 884.8,248.6 889.7,221.6 894.9,206.6 900.1,217.4 905.3,244.1 910.5,256.9 915.7,241.3 920.9,220.6 926.1,220.6 931.3,244.5 936.5,267.3 941.7,267.3 946.9,242.4 951.7,216.4 956.9,200.4 962.1,216.4 967.3,255.9 972.5,278.4 977.7,252.8 982.9,226.8 988.1,230.9 993.3,247.0 998.5,245.9 1003.7,234.1 1008.9,222.6 1013.7,215.8 1019.3,225.8 1024.5,250.7 1029.3,264.8 1034.5,255.9 1039.7,238.2 1044.9,222.6 1050.1,224.3 1055.3,241.3 1060.5,256.3 1065.7,258.2 1070.9,240.3 1075.9,218.9 1081.1,221.6 1086.3,246.1 1091.5,254.9 1096.7,247.2 1101.9,245.5 1107.1,244.9 1112.3,238.9 1117.5,239.9 1122.2,241.8 1127.4,232.6 1132.6,228.9 1137.8,238.9 1143.0,246.5 1148.2,244.1 1153.4,236.6 1158.6,237.8 1163.8,247.6 1169.0,252.2 1174.2,247.6 1179.4,241.8 1184.6,234.5 1189.8,227.4 1194.6,227.8 1200.2,242.4 1205.4,253.8 1210.0,255.3 1215.6,246.5 1220.8,239.3 1226.0,234.1 1231.2,233.7 1236.4,245.5 1241.2,257.6 1246.4,259.4 1251.6,254.2 1256.6,243.4 1261.8,234.1 1267.0,239.3 1272.2,242.0 1277.4,233.7 1282.6,235.1 1287.8,242.8 1293.0,242.8 1298.2,243.8 1303.4,251.3 1308.6,252.8 1313.8,242.4 1319.0,231.4 1324.2,227.8 1329.3,239.3 1334.5,256.5 1339.3,265.9 1344.5,259.0 1349.7,240.3 1354.9,227.8 1360.1,237.6 1365.3,251.3 1370.5,246.5 1375.7,237.8 1380.9,237.2 1386.1,240.3 1391.3,243.0 1396.5,240.3 1401.3,237.2 1406.5,242.0 1411.7,243.0 1416.9,237.6 1422.1,239.3 1427.3,246.5 1432.5,246.5 1437.7,241.8 1442.9,242.0 1448.1,242.4 1453.3,238.9 1458.5,238.9 1463.7,244.1 1468.9,247.0 1474.1,242.8 1479.3,236.1 1484.5,230.5 1489.7,228.2 1494.9,239.3 1499.5,251.3 1504.7,246.5 1509.9,228.9 1515.1,227.8 1520.3,246.1 1525.5,252.2 1530.7,238.2 1535.8,228.9 1541.0,228.5 1546.2,229.9 1551.4,240.7 1556.2,256.9 1561.8,255.9 1566.6,237.2 1571.8,229.9 1577.0,244.9 1582.2,251.1 1587.4,246.5 1592.6,244.1 1597.8,235.1 1603.0,221.6 1608.2,221.0 1613.4,235.7 1618.6,246.1 1623.8,242.0 1628.4,233.0 1634.0,241.8 1638.8,256.3 1644.0,252.2 1649.2,238.9 1654.4,239.3 1659.6,243.8 1664.8,236.1 1670.0,227.8 1675.2,241.8 1680.4,262.8 1685.6,258.0 1690.8,238.6 1696.0,230.3 1701.2,235.7 1706.4,246.1 1711.6,249.2 1716.3,242.0 1721.5,230.5 1726.7,230.9 1731.9,242.8 1737.1,249.2 1742.3,243.8 1747.5,235.1 1752.7,230.9 1757.9,237.8 1763.1,247.6 1768.3,249.0 1773.5,245.9 1778.7,246.1 1783.9,247.2 1789.1,246.5 1794.3,244.5 1799.5,236.8 1804.3,233.4 1809.5,246.5 1814.7,253.2 1819.9,244.1 1825.1,237.6 1830.3,238.9 1835.5,243.0 1840.7,245.9 1845.9,246.5 1851.1,250.7 1856.3,251.1 1861.5,240.7 1866.7,232.0 1871.9,228.9 1877.1,231.4 1881.7,247.2 1886.9,259.0 1892.1,239.3 1897.3,219.5 1902.5,228.9 1907.7,248.6 1912.9,254.4 1918.1,247.0 1923.3,234.1 1928.5,223.7 1933.7,225.3 1938.9,233.7 1944.1,243.4 1948.8,253.4 1954.0,253.8 1959.2,240.3 1964.4,226.8 1969.6,224.1 1974.8,241.3 1980.0,259.0 1985.2,253.8 1990.4,238.2 1995.6,233.7 2000.8,232.0 2006.0,235.1 2011.2,242.8 2016.4,238.2 2021.6,223.0 2026.8,223.0 2031.4,242.4 2036.6,256.9 2041.8,243.4 2047.0,229.5 2052.2,235.1 2057.4,253.8 2062.6,261.7 2067.8,255.9 2073.0,243.8 2078.2,231.6 2083.4,224.3 2088.6,234.1 2093.8,252.8 2099.0,263.2 2104.2,257.4 2109.4,246.1 2112.5,243.8" fill="none" stroke="#0000ff" stroke-width="2.08" stroke-linejoin="round" />
<polyline points="304.6,334.9 310.8,331.4 316.0,344.3 321.2,357.8 326.4,367.6 331.6,368.2 336.8,352.6 342.0,339.1 347.2,344.3 352.4,363.6 357.6,367.8 362.8,353.6 368.0,343.2 372.8,342.2 378.0,347.4 383.2,354.1 388.4,353.0 393.6,345.9 398.8,344.9 404.0,354.3 409.2,364.0 414.0,363.6 419.2,354.3 424.4,345.7 429.6,343.7 435.2,347.4 440.4,358.4 445.6,370.7 450.4,367.2 455.6,349.5 460.8,341.6 465.9,347.4 471.1,351.6 476.3,352.2 481.5,355.7 486.7,357.2 491.9,357.4 497.1,358.8 502.3,355.7 507.5,352.2 512.1,353.0 517.3,352.6 522.5,353.6 527.7,358.8 532.9,359.3 538.1,350.5 543.7,343.7 548.9,346.8 554.1,354.3 559.3,362.4 564.1,366.1 569.3,357.8 574.5,343.7 579.7,339.7 584.9,350.5 590.1,360.3 595.3,359.3 600.5,352.0 605.7,343.9 610.9,342.6 616.1,348.0 621.9,353.2 626.5,368.2 631.7,386.9 636.5,395.2 641.7,357.8 646.2,311.4 651.4,307.9 656.6,340.1 661.8,368.2 667.0,373.4 672.2,366.5 677.4,344.3 682.6,314.8 687.8,317.3 693.0,366.1 698.2,403.6 703.4,386.9 708.6,336.0 713.8,308.9 719.0,324.5 724.2,365.1 729.4,392.1 734.6,375.5 739.8,337.0 745.0,318.3 750.2,335.6 755.4,373.4 760.4,388.4 765.6,369.7 770.4,336.0 775.6,326.2 781.2,352.6 786.0,384.8 791.2,393.2 796.4,363.0 801.6,317.3 806.8,303.1 812.0,345.3 817.0,393.2 822.2,394.8 827.4,351.6 832.6,321.8 838.0,327.0 843.2,349.5 848.2,371.3 853.4,381.3 858.6,363.6 863.8,337.6 869.0,337.4 874.2,363.0 879.3,374.0 884.5,352.2 889.3,317.7 894.9,307.9 899.7,341.2 904.9,386.5 910.1,390.0 915.3,353.6 920.5,326.2 926.1,330.8 930.9,357.8 936.1,391.5 941.3,397.3 946.1,363.0 951.1,308.9 956.5,291.7 961.7,325.6 966.9,376.1 972.1,399.4 977.3,380.7 982.5,345.3 987.7,329.7 992.9,347.4 997.9,373.4 1002.7,377.6 1008.5,352.6 1013.1,334.3 1018.7,324.9 1023.9,343.2 1029.1,368.2 1034.3,375.1 1039.5,352.6 1044.7,322.9 1049.9,322.5 1055.1,353.6 1060.3,380.3 1065.5,378.2 1070.7,360.9 1075.9,346.4 1080.7,337.0 1085.8,339.7 1091.0,356.1 1096.2,367.6 1101.4,356.8 1106.2,341.6 1111.8,350.1 1117.0,370.3 1122.2,373.0 1127.4,357.4 1132.6,344.3 1137.4,338.7 1142.6,343.2 1147.8,353.6 1153.0,360.3 1158.2,355.7 1163.4,343.2 1168.6,338.0 1173.8,350.5 1179.0,369.2 1184.2,370.9 1189.4,348.4 1194.4,329.7 1199.6,334.9 1204.8,354.7 1210.0,365.7 1215.0,366.5 1220.2,358.4 1225.4,350.9 1230.6,355.3 1235.8,365.7 1241.0,372.4 1246.2,364.0 1250.9,347.4 1256.1,338.5 1261.3,344.3 1266.5,358.4 1271.7,369.7 1276.9,366.5 1282.1,348.9 1287.3,338.5 1292.5,346.4 1297.3,355.3 1302.5,352.6 1307.7,342.2 1312.9,334.9 1318.1,342.2 1323.3,352.2 1328.5,352.6 1334.1,348.9 1339.3,347.4 1344.5,347.4 1349.3,352.6 1354.5,362.6 1359.7,364.7 1364.9,357.4 1370.1,351.1 1375.3,351.6 1380.5,355.3 1385.7,357.4 1390.9,358.8 1395.5,360.9 1400.7,356.3 1405.9,347.8 1411.1,355.1 1416.3,366.5 1421.5,363.0 1426.7,349.1 1431.9,342.6 1437.1,346.8 1442.3,350.5 1447.5,351.1 1452.7,354.1 1457.9,355.7 1463.1,356.8 1468.3,362.0 1473.5,364.0 1478.7,358.8 1483.4,357.8 1488.6,362.0 1493.8,358.8 1499.0,351.1 1504.2,348.0 1509.4,349.5 1514.6,349.1 1519.8,348.4 1525.0,351.6 1530.2,352.0 1535.4,345.9 1540.6,345.3 1545.8,354.3 1551.0,358.8 1556.2,352.6 1561.4,348.9 1566.6,358.4 1571.8,363.0 1577.0,354.7 1581.6,349.5 1586.8,353.0 1592.0,351.6 1597.2,348.0 1602.4,354.7 1607.6,362.0 1612.8,354.7 1618.0,344.9 1623.2,345.7 1628.4,350.5 1633.6,350.5 1638.8,351.6 1644.0,357.8 1649.2,360.3 1654.4,354.7 1659.6,345.7 1664.4,339.7 1669.6,342.2 1674.8,353.0 1680.0,358.2 1685.2,354.3 1690.4,352.6 1695.6,352.6 1700.8,352.0 1705.9,353.2 1711.1,357.2 1716.3,356.3 1721.5,352.6 1726.7,352.6 1731.9,353.2 1737.1,351.6 1741.9,350.5 1747.1,354.1 1752.3,357.2 1757.5,356.8 1762.7,355.3 1767.9,353.6 1773.1,353.0 1778.3,357.8 1783.5,360.3 1788.7,356.3 1793.9,354.7 1799.1,358.2 1803.7,357.8 1808.9,352.2 1814.1,351.1 1819.3,355.1 1824.5,353.2 1830.1,348.0 1834.9,349.5 1840.1,356.1 1845.3,355.7 1850.5,349.5 1855.3,347.4 1860.5,354.3 1865.7,362.4 1870.9,359.9 1876.1,348.0 1881.3,338.7 1886.5,344.9 1891.7,357.4 1896.9,362.0 1902.1,352.6 1907.3,347.8 1912.5,351.1 1917.6,349.5 1922.8,343.9 1928.0,345.7 1933.2,354.7 1938.4,360.9 1943.6,359.3 1948.8,353.6 1954.0,352.6 1959.2,356.8 1964.4,360.3 1969.6,357.4 1974.8,350.5 1979.4,348.0 1984.6,353.2 1989.8,361.5 1995.0,363.6 2000.2,353.6 2005.0,343.9 2010.6,349.1 2015.8,360.3 2021.0,361.5 2026.2,356.8 2031.4,354.1 2036.6,349.5 2041.8,344.9 2047.0,347.8 2052.2,357.4 2057.0,364.0 2062.2,358.8 2067.8,348.0 2072.6,345.3 2077.8,350.5 2083.0,354.7 2088.2,355.1 2093.4,354.7 2098.6,354.7 2103.8,349.5 2108.3,344.3 2112.5,344.3" fill="none" stroke="#505050" stroke-width="2.08" stroke-linejoin="round" />
<polyline points="304.6,450.3 309.8,461.8 315.0,470.1 320.2,479.0 325.4,479.0 330.6,451.4 335.8,441.6 341.0,463.9 346.2,478.8 351.4,474.3 356.6,470.7 361.8,465.9 366.5,458.7 371.7,458.2 376.9,464.9 382.1,472.2 387.3,470.1 392.5,456.6 397.7,448.3 402.3,462.8 407.5,482.0 412.7,480.1 417.9,470.1 423.1,466.4 428.3,456.6 433.1,444.1 438.3,450.3 443.5,472.2 449.1,482.6 454.3,471.8 459.5,457.0 464.7,457.2 469.9,465.3 475.1,468.6 480.3,473.6 485.5,472.8 490.7,457.6 495.9,446.8 500.7,461.8 505.9,473.2 511.1,472.2 516.3,470.7 521.5,461.2 526.7,455.5 531.9,472.2 537.1,486.1 542.3,468.0 547.1,442.4 552.3,448.3 557.5,474.9 562.6,481.1 567.8,469.1 573.0,465.5 578.0,472.2 583.2,467.0 588.4,458.7 593.6,465.9 598.8,477.0 604.0,473.8 609.2,457.6 614.4,440.6 619.6,447.2 624.8,470.7 630.0,480.1 635.2,463.9 640.4,442.4 645.6,441.6 650.8,462.8 656.0,488.8 661.2,501.3 666.0,482.6 671.2,433.7 676.4,403.6 681.6,425.0 686.8,479.5 692.0,514.2 697.2,509.6 702.4,475.3 707.6,434.7 712.4,410.8 717.6,439.9 722.8,508.2 728.0,522.7 733.2,485.7 738.4,441.6 743.6,443.7 748.8,460.7 754.0,473.6 759.4,478.8 764.6,471.1 769.8,451.4 775.0,442.6 780.2,458.2 785.4,476.8 790.6,484.7 795.8,479.5 800.5,463.4 805.7,460.1 810.9,474.9 816.1,485.7 821.3,477.4 826.3,456.0 831.5,437.2 836.7,443.1 841.9,468.0 847.1,490.3 851.9,485.1 857.1,462.8 862.7,448.9 867.9,459.1 873.1,480.5 878.3,481.5 883.1,457.6 888.3,433.7 893.9,436.4 899.1,463.9 903.9,494.0 909.1,499.2 914.3,472.2 919.5,452.0 924.7,461.8 929.9,475.3 935.1,485.1 939.9,494.0 945.1,473.2 950.1,427.1 955.5,409.4 960.7,445.1 965.9,494.6 971.1,510.7 976.3,478.4 981.2,447.8 986.4,444.5 991.6,455.5 996.8,472.2 1002.0,489.9 1007.2,479.0 1012.4,444.7 1017.6,429.5 1022.8,448.9 1028.0,487.8 1033.2,501.3 1038.0,467.6 1043.2,431.6 1048.8,444.5 1053.6,478.0 1058.8,503.8 1064.0,503.0 1069.2,470.1 1074.4,437.9 1079.6,441.0 1084.8,470.1 1090.0,489.4 1095.2,485.7 1100.4,469.1 1105.6,453.5 1110.8,459.7 1116.0,479.5 1120.8,477.4 1126.0,454.5 1131.2,436.2 1136.4,428.5 1141.6,431.0 1146.8,454.5 1152.0,486.3 1157.2,499.6 1162.4,490.9 1167.6,467.0 1172.2,446.8 1177.8,454.5 1183.0,473.2 1188.2,471.6 1193.4,451.8 1198.1,438.5 1203.3,447.2 1208.5,469.1 1213.5,475.3 1218.7,457.6 1223.9,446.6 1229.1,468.0 1234.3,493.4 1239.5,496.5 1244.7,471.1 1249.9,445.1 1255.1,438.5 1260.3,461.8 1265.5,486.3 1270.7,486.7 1275.9,465.9 1281.1,445.8 1286.3,444.1 1291.5,468.0 1296.3,491.9 1301.5,487.8 1306.7,468.0 1311.9,449.3 1317.1,435.4 1322.3,439.9 1327.5,462.2 1332.7,483.0 1337.9,480.5 1343.1,459.7 1348.3,450.3 1353.5,465.9 1358.7,480.1 1363.9,464.9 1368.9,444.1 1374.1,454.5 1378.8,476.3 1384.0,470.5 1389.2,467.6 1394.4,493.6 1399.6,504.0 1404.8,480.9 1410.0,472.6 1415.2,489.2 1420.4,491.9 1425.6,464.3 1430.8,434.7 1435.6,436.2 1440.8,457.6 1446.0,468.0 1451.2,458.7 1456.8,447.6 1461.6,448.9 1466.8,464.9 1472.0,480.5 1477.2,484.7 1482.4,478.8 1487.6,460.7 1492.8,437.9 1498.0,442.0 1503.2,474.7 1508.4,480.9 1513.6,450.3 1518.2,442.4 1523.4,462.2 1528.6,467.6 1533.8,469.1 1539.0,485.7 1544.2,483.6 1549.4,454.1 1554.6,436.8 1559.8,446.8 1565.0,468.0 1570.2,488.8 1575.4,488.2 1580.6,466.6 1585.8,449.7 1591.0,456.6 1596.2,475.3 1601.4,491.9 1606.6,487.4 1611.8,461.8 1616.5,441.6 1621.7,445.1 1626.9,463.9 1632.1,487.8 1637.3,488.2 1642.5,458.2 1647.7,443.7 1652.9,457.6 1658.1,467.0 1663.3,470.1 1668.5,470.5 1673.7,461.2 1678.5,454.5 1683.7,466.6 1688.9,480.1 1694.1,477.4 1699.3,457.6 1704.5,440.6 1709.7,447.8 1714.9,468.6 1720.1,480.9 1725.3,480.5 1730.5,468.0 1735.7,454.5 1740.9,448.9 1746.1,456.2 1751.3,467.6 1756.3,470.1 1761.5,466.4 1766.7,468.4 1771.9,473.8 1777.1,479.0 1782.3,477.0 1787.1,464.5 1792.3,453.0 1797.5,454.5 1802.6,462.2 1807.8,471.1 1813.0,472.8 1818.2,461.4 1823.4,452.0 1828.6,460.1 1833.4,472.8 1838.6,477.0 1843.8,473.2 1849.0,465.9 1854.2,459.1 1859.4,458.7 1864.6,461.8 1869.8,467.6 1875.0,472.6 1880.2,465.5 1885.0,459.3 1890.2,467.0 1895.4,470.1 1900.6,463.2 1905.8,464.5 1911.0,465.5 1916.2,453.9 1921.4,454.1 1926.6,472.2 1931.8,480.1 1937.0,471.8 1942.2,465.3 1947.4,467.4 1952.6,476.8 1957.8,490.5 1963.0,490.9 1967.8,467.6 1973.0,444.7 1978.2,449.9 1983.4,467.0 1988.6,480.5 1993.8,482.0 1999.0,464.5 2004.2,443.7 2009.4,442.0 2014.6,457.6 2019.3,470.5 2024.5,474.3 2029.7,470.7 2034.9,469.5 2040.1,468.6 2045.3,456.6 2050.5,448.7 2055.7,462.2 2060.9,477.0 2066.1,476.3 2071.3,472.6 2076.5,468.6 2081.7,459.3 2086.5,454.9 2091.7,460.1 2096.9,459.7 2102.1,456.6 2107.3,462.2 2112.5,463.9" fill="none" stroke="#505050" stroke-width="2.08" stroke-linejoin="round" />
<polyline points="304.6,577.3 312.5,576.9 320.8,577.7 329.1,578.3 336.4,577.3 342.6,576.7 350.9,578.3 358.2,579.0 366.5,577.7 374.9,576.7 383.2,577.7 389.4,578.3 397.7,577.3 404.0,576.7 412.3,577.7 420.6,578.8 428.9,577.9 441.4,577.1 453.9,577.3 462.2,577.3 470.5,578.1 478.8,577.3 488.2,576.5 497.6,577.3 508.0,578.6 516.3,577.7 523.6,577.1 532.9,577.9 545.4,577.3 557.9,577.7 570.3,577.9 578.7,577.3 585.9,576.7 593.2,577.5 599.5,577.1 607.8,576.7 616.1,577.3 626.5,577.5 636.9,577.1 649.4,576.9 653.5,581.5 658.1,598.1 663.5,624.5 668.7,612.2 673.9,564.8 678.9,514.9 684.1,530.5 689.3,579.4 694.5,614.3 699.7,615.8 704.9,577.3 710.1,539.9 715.3,531.1 720.5,569.0 725.7,607.0 730.9,621.0 736.1,592.9 740.9,545.7 746.1,536.1 751.3,569.0 756.5,606.4 761.4,616.4 766.6,583.5 771.8,547.2 777.0,545.7 782.2,580.4 787.4,610.6 792.6,607.5 797.8,575.2 803.0,549.9 808.2,552.8 813.4,586.7 818.6,613.3 823.8,602.7 828.6,566.9 833.8,541.5 839.4,549.2 844.6,579.4 849.4,601.6 854.6,595.0 859.8,569.0 865.0,553.0 870.6,560.7 875.8,585.6 880.6,603.3 885.8,596.0 891.0,575.2 896.2,566.5 901.4,574.8 906.0,586.7 911.6,589.4 916.8,575.9 921.6,555.1 926.8,548.8 932.4,565.9 937.6,590.4 942.8,598.1 948.0,583.5 952.8,566.5 958.0,567.9 963.2,585.6 968.4,602.7 973.6,600.8 978.8,581.5 984.0,558.2 989.2,547.8 994.3,559.6 999.5,578.8 1004.7,589.2 1009.9,585.6 1014.7,577.9 1019.9,574.2 1025.1,575.2 1030.3,579.0 1035.9,580.4 1041.1,576.3 1046.3,570.7 1051.5,571.5 1056.7,579.4 1061.5,587.3 1066.7,586.7 1071.9,578.3 1077.1,570.4 1082.1,567.5 1086.9,572.7 1092.1,581.5 1097.3,587.7 1102.5,587.7 1107.7,581.1 1112.9,574.2 1118.1,570.7 1123.3,571.7 1128.5,574.6 1134.3,577.9 1139.5,582.1 1144.7,585.6 1149.3,587.3 1154.5,585.6 1159.7,580.0 1164.9,572.1 1170.1,566.3 1175.3,565.5 1180.5,571.1 1185.7,579.0 1190.9,582.1 1195.7,577.9 1200.8,571.5 1206.0,569.0 1210.0,571.5 1216.2,581.5 1221.4,585.2 1226.6,583.1 1231.8,575.9 1237.0,571.1 1242.2,572.5 1247.4,579.4 1252.6,586.0 1257.8,588.3 1263.0,585.6 1268.2,581.9 1273.4,580.0 1278.6,581.5 1283.8,582.5 1289.0,580.4 1294.2,575.2 1299.4,572.5 1304.6,572.5 1309.8,575.2 1315.0,578.8 1320.2,580.0 1325.4,578.3 1330.6,575.2 1335.8,572.7 1341.0,571.5 1346.2,571.1 1351.4,570.4 1356.6,570.7 1361.8,573.1 1366.4,576.7 1371.6,579.8 1376.8,580.8 1382.0,579.8 1387.2,577.3 1391.9,577.3 1397.1,579.8 1402.3,581.5 1407.5,579.8 1412.7,575.9 1417.9,574.6 1423.1,576.3 1428.3,578.8 1433.5,580.8 1438.7,582.5 1443.9,582.9 1449.1,580.4 1454.3,577.3 1459.5,576.9 1464.7,577.9 1469.9,577.7 1475.1,575.6 1480.3,573.6 1485.5,574.2 1490.7,576.9 1495.9,577.9 1501.1,577.7 1506.3,577.7 1511.5,578.8 1516.7,579.4 1521.9,578.8 1527.1,576.9 1532.3,575.2 1537.5,574.8 1542.7,575.9 1547.9,578.3 1553.1,580.4 1558.3,580.0 1563.5,577.3 1568.1,574.6 1573.3,575.2 1578.5,577.9 1583.7,579.4 1588.9,579.0 1594.1,577.3 1599.3,576.3 1604.5,576.9 1609.7,579.0 1614.9,579.4 1620.1,577.9 1625.3,576.3 1630.5,575.6 1635.7,575.2 1640.9,575.9 1646.1,577.3 1651.3,577.3 1656.5,576.7 1660.0,577.3 1665.4,580.4 1670.6,582.1 1675.8,580.0 1681.0,576.9 1686.2,576.3 1691.4,577.3 1696.6,578.3 1701.8,577.7 1707.0,575.6 1712.2,573.6 1717.4,573.8 1722.6,576.7 1727.8,579.4 1733.0,580.0 1738.2,578.8 1743.4,576.3 1748.6,574.8 1753.8,576.3 1759.0,578.8 1764.2,579.8 1769.4,578.8 1774.6,576.7 1779.4,575.9 1784.6,578.3 1789.8,580.4 1795.0,581.1 1800.2,580.0 1805.4,578.8 1810.6,577.7 1815.8,578.3 1820.9,580.0 1825.5,580.8 1830.7,578.8 1835.9,576.3 1841.1,575.2 1846.3,575.9 1851.5,576.9 1856.7,577.3 1861.9,576.3 1867.1,574.8 1872.3,576.3 1877.5,578.3 1882.7,579.4 1887.9,578.3 1893.1,576.3 1898.3,575.6 1903.5,576.3 1908.7,576.7 1913.9,576.9 1919.1,576.7 1924.3,575.6 1929.5,574.2 1934.7,574.2 1939.9,575.6 1945.1,576.9 1950.3,577.9 1955.5,578.3 1960.7,578.3 1966.9,577.9 1975.3,577.9 1983.6,578.3 1991.9,578.3 1999.2,579.0 2006.4,579.4 2011.6,578.8 2016.8,577.3 2022.0,577.3 2029.3,577.9 2037.6,578.8 2044.9,579.0 2052.2,578.8 2058.4,578.3 2064.7,577.7 2070.9,577.7 2079.2,577.3 2086.5,577.3 2091.7,577.9 2096.9,578.3 2102.1,577.7 2107.3,575.9 2112.5,574.2" fill="none" stroke="#505050" stroke-width="2.08" stroke-linejoin="round" />
<polyline points="304.6,690.0 310.4,689.6 316.6,686.5 322.5,685.0 327.0,687.5 332.2,692.7 337.4,696.9 342.6,695.8 347.8,690.2 353.0,684.8 358.2,683.4 363.4,686.5 368.6,690.2 373.8,692.1 379.0,690.2 384.2,688.6 389.4,690.2 394.6,691.3 399.8,690.2 405.0,689.0 412.3,688.1 419.6,687.1 424.8,688.6 430.0,692.3 435.2,694.4 440.4,692.7 445.6,688.6 451.4,686.9 457.0,688.6 462.2,690.0 468.4,689.6 475.7,689.2 482.0,691.3 487.2,693.3 492.4,693.1 497.6,689.6 502.8,686.1 508.0,685.4 513.2,688.1 518.4,690.6 523.6,689.6 528.8,687.5 534.0,687.1 539.2,687.5 544.3,688.1 549.5,690.0 554.7,691.3 559.9,690.6 565.1,688.1 570.3,686.9 575.5,687.9 580.7,690.6 585.9,690.6 591.1,686.9 596.3,685.4 601.5,688.1 606.7,691.3 610.9,692.3 616.1,690.6 621.9,689.6 627.1,701.7 632.1,724.5 636.9,725.4 642.1,675.0 647.3,632.4 652.5,640.3 657.7,687.5 662.9,727.0 668.1,733.3 673.3,704.2 678.5,658.4 683.7,632.4 688.9,666.7 694.1,722.9 699.3,741.2 704.5,695.8 709.7,647.0 714.9,634.9 720.1,675.0 725.3,727.0 730.5,748.2 735.7,704.2 740.9,650.1 745.7,641.8 750.8,685.4 756.0,734.3 761.0,739.5 766.2,695.8 771.4,646.3 776.6,640.7 781.8,697.9 787.0,747.2 792.2,745.1 797.4,689.6 802.6,633.5 807.8,629.7 813.0,678.2 818.2,723.5 823.4,727.0 828.6,689.6 833.8,647.4 839.0,654.3 844.2,701.0 848.8,738.9 854.0,729.1 859.2,692.7 864.4,672.6 869.6,681.9 874.8,703.5 880.0,711.4 885.2,685.4 890.4,644.9 895.6,630.8 900.8,663.6 905.6,715.6 911.2,737.0 916.4,710.4 921.1,671.9 926.3,669.4 931.5,702.1 936.7,733.3 941.9,732.2 947.1,691.7 952.3,645.9 957.5,627.8 962.7,654.3 967.9,700.0 973.1,723.5 978.3,716.6 983.5,695.4 988.7,678.8 993.9,682.3 999.1,696.5 1003.7,701.0 1008.9,687.1 1014.1,670.9 1019.3,670.9 1024.5,685.4 1029.7,699.0 1034.5,702.7 1039.7,691.3 1044.9,680.9 1050.1,682.9 1055.3,696.5 1060.5,709.8 1065.7,712.5 1070.9,702.7 1076.1,690.2 1081.7,680.2 1086.9,675.5 1092.1,675.5 1097.3,679.2 1102.5,686.5 1107.7,695.4 1112.9,704.2 1117.7,707.9 1122.9,704.2 1128.1,689.6 1133.3,671.3 1138.5,663.2 1143.7,673.6 1148.9,690.2 1154.1,700.0 1159.3,695.4 1164.5,682.3 1169.7,674.4 1174.9,678.6 1180.1,692.3 1184.6,704.8 1189.8,702.1 1195.0,686.5 1200.2,674.0 1205.4,677.5 1210.0,690.6 1215.6,701.7 1220.8,705.8 1226.0,702.7 1231.2,696.5 1236.4,693.3 1241.6,696.5 1246.8,701.0 1252.0,699.6 1257.2,689.2 1262.4,679.2 1267.2,677.1 1272.4,683.4 1277.6,690.2 1282.8,693.1 1288.0,692.3 1293.2,692.7 1298.4,692.3 1303.6,687.1 1308.8,678.8 1314.0,672.3 1319.2,670.9 1324.4,676.7 1329.6,686.1 1334.8,693.1 1340.0,695.2 1345.2,694.8 1350.4,694.2 1355.6,694.4 1360.8,695.4 1365.9,697.3 1371.1,695.4 1376.3,686.5 1380.9,677.8 1386.1,677.1 1391.3,687.5 1396.5,697.9 1401.7,703.1 1406.9,702.7 1412.1,698.5 1417.3,693.1 1422.5,689.0 1427.7,686.5 1432.5,683.4 1437.7,678.8 1442.9,677.8 1448.1,682.3 1453.3,687.5 1458.5,691.7 1463.7,694.8 1468.9,696.3 1474.1,695.8 1479.3,693.3 1484.5,689.6 1489.7,686.5 1494.9,685.0 1500.1,684.8 1504.7,688.1 1509.9,697.3 1515.5,702.5 1520.7,693.1 1525.9,680.9 1531.1,679.2 1536.3,686.5 1541.5,693.8 1546.2,696.9 1551.4,694.2 1556.6,685.0 1561.8,679.6 1567.0,683.4 1572.2,693.3 1577.9,698.3 1582.6,695.4 1587.8,686.1 1592.6,679.8 1597.8,682.3 1603.0,690.6 1608.2,694.4 1613.4,690.6 1618.6,684.8 1623.8,684.0 1629.0,691.3 1634.2,700.0 1639.4,700.4 1644.6,691.7 1649.8,685.0 1655.0,684.8 1660.0,689.0 1665.4,694.4 1670.6,693.8 1675.8,684.8 1681.0,676.7 1686.2,677.8 1691.4,686.5 1696.6,694.8 1701.8,694.2 1707.0,688.6 1712.2,687.1 1717.4,690.0 1722.6,693.3 1727.8,694.4 1733.0,693.1 1738.2,691.3 1743.4,690.6 1748.6,691.7 1753.8,692.7 1759.0,692.3 1764.2,689.6 1769.0,687.9 1774.2,690.0 1779.4,694.4 1784.6,696.3 1789.8,693.3 1795.0,689.6 1800.2,687.9 1805.4,689.0 1810.6,691.3 1815.1,692.7 1820.3,690.6 1825.5,685.4 1830.7,682.3 1835.9,684.0 1841.1,687.5 1846.3,691.7 1851.5,693.8 1856.7,693.1 1861.9,691.1 1867.1,689.2 1872.3,688.1 1877.5,686.5 1882.7,683.8 1887.9,681.9 1893.1,682.3 1898.3,684.4 1903.5,686.9 1908.7,688.6 1913.9,688.6 1919.1,687.9 1924.3,688.1 1929.5,690.6 1934.7,693.3 1939.9,694.8 1945.1,694.2 1950.3,693.1 1955.5,693.1 1960.7,693.8 1965.9,693.3 1971.1,691.1 1976.3,689.0 1981.5,689.2 1986.7,690.6 1991.9,693.1 1997.1,695.2 2002.3,694.8 2007.5,691.1 2012.7,686.5 2017.9,685.0 2023.1,686.9 2028.3,690.0 2033.5,693.1 2038.7,694.4 2043.9,692.7 2049.1,687.9 2053.9,685.4 2059.1,687.1 2064.3,690.2 2069.5,693.1 2074.7,693.3 2079.9,689.2 2085.1,682.7 2090.3,679.8 2095.5,681.3 2100.7,686.5 2105.8,692.3 2111.0,693.3" fill="none" stroke="#505050" stroke-width="2.08" stroke-linejoin="round" />
<polyline points="304.6,799.8 307.3,798.2 312.5,801.5 317.7,809.8 322.9,812.3 328.1,807.5 333.3,802.5 338.5,797.7 343.3,795.7 348.5,799.4 353.7,800.9 358.9,794.0 364.1,791.1 369.2,799.8 374.4,808.1 379.6,812.3 384.2,810.6 389.4,801.9 394.6,793.6 399.8,793.2 405.0,799.8 410.8,806.5 416.0,807.5 421.2,802.9 426.4,795.2 431.0,792.5 436.2,800.4 441.4,810.2 446.6,809.8 451.8,801.3 457.6,796.3 462.8,797.1 468.0,803.4 472.6,809.2 477.8,804.0 483.0,792.5 488.2,790.0 493.4,798.2 498.6,804.0 503.8,807.1 509.0,810.8 514.2,810.2 519.4,800.2 524.2,793.6 529.4,800.4 534.6,807.7 539.8,805.4 545.0,796.7 550.2,785.9 555.4,771.7 559.9,769.7 565.1,793.6 570.3,839.3 575.5,862.2 580.7,835.2 585.9,791.5 591.8,765.5 596.3,774.9 601.5,805.0 606.7,834.1 611.9,842.0 616.7,808.1 621.9,773.8 626.5,763.4 632.1,807.1 637.3,840.4 642.5,835.2 647.7,798.8 652.9,769.7 658.1,773.8 663.3,806.1 668.5,831.6 673.7,817.1 678.9,779.0 684.1,762.0 689.3,791.5 694.5,828.9 699.7,838.7 704.9,797.7 710.1,749.9 715.3,739.9 720.5,787.3 725.7,841.4 730.9,862.6 736.1,833.1 740.9,793.2 746.1,785.9 751.3,812.3 756.0,842.9 761.4,844.5 766.6,806.1 771.8,757.2 777.0,744.7 782.2,776.9 787.4,811.7 792.6,817.1 797.8,794.6 803.0,771.3 808.2,779.4 813.4,822.7 818.6,849.7 823.8,824.8 828.6,779.0 833.8,768.0 839.0,795.7 844.2,829.6 849.4,840.8 854.6,824.2 859.8,787.3 865.0,758.2 870.2,773.8 875.4,827.5 880.6,853.5 885.8,812.3 891.0,756.2 896.2,745.8 901.0,781.1 906.0,828.9 911.6,851.2 916.8,833.1 921.6,793.2 926.8,771.7 932.4,782.1 937.6,806.7 942.8,817.9 947.6,799.8 952.8,768.2 958.0,764.9 963.2,806.1 968.4,844.5 973.6,837.3 978.3,795.7 984.0,772.2 989.2,784.2 994.3,814.4 999.5,833.1 1004.7,827.5 1009.9,802.9 1014.7,778.0 1019.9,774.2 1025.1,794.6 1030.3,815.8 1035.5,816.5 1040.7,794.6 1045.9,781.1 1051.1,791.5 1056.3,809.6 1061.5,814.4 1066.7,802.9 1071.9,786.9 1077.1,784.2 1082.1,805.0 1087.3,826.2 1092.5,819.6 1097.3,793.6 1102.5,779.0 1107.7,787.3 1112.9,805.0 1118.1,814.4 1123.3,810.8 1128.5,801.5 1133.7,793.2 1138.9,795.0 1144.1,805.0 1149.3,813.3 1154.5,812.3 1159.7,803.6 1164.5,799.4 1169.7,806.1 1174.9,818.5 1180.1,825.4 1185.3,811.7 1190.5,788.8 1195.7,778.4 1200.8,791.1 1206.0,806.1 1210.0,804.0 1216.2,789.0 1221.4,784.6 1226.6,791.9 1231.8,798.8 1237.0,798.8 1242.2,796.3 1247.4,797.1 1252.6,800.9 1257.8,805.6 1263.0,810.8 1268.2,809.8 1272.8,800.9 1278.0,793.6 1283.2,796.1 1288.4,806.7 1293.6,818.5 1298.8,822.3 1304.0,813.8 1309.2,803.4 1314.0,798.4 1319.2,803.6 1324.4,810.2 1329.6,805.6 1334.8,789.4 1340.0,776.5 1345.6,781.5 1350.8,797.1 1355.6,811.9 1360.8,813.8 1365.9,802.9 1371.1,795.0 1376.3,799.8 1381.5,809.8 1386.7,812.7 1391.9,806.7 1397.1,795.0 1402.3,788.8 1407.5,798.8 1412.7,812.9 1417.9,813.3 1423.1,799.8 1428.3,788.0 1433.5,788.0 1438.7,800.9 1443.9,814.4 1449.1,814.4 1453.7,800.4 1458.9,791.5 1464.1,798.4 1469.3,806.1 1474.5,806.7 1479.7,807.1 1484.9,806.1 1490.1,800.9 1495.3,801.9 1500.5,811.9 1505.3,821.0 1510.9,815.4 1516.1,795.7 1520.9,781.7 1526.1,784.2 1531.3,798.8 1536.5,810.2 1541.7,812.9 1546.9,803.6 1552.1,789.0 1557.3,785.9 1562.5,799.8 1567.7,815.8 1572.9,817.9 1578.1,805.4 1583.3,793.2 1588.5,788.8 1593.7,793.2 1598.9,802.9 1604.1,811.7 1609.3,811.3 1614.5,798.8 1619.0,788.0 1624.2,793.6 1629.4,804.4 1634.6,805.0 1639.8,802.5 1645.0,801.9 1650.2,797.7 1655.4,796.3 1660.0,801.9 1666.0,805.0 1671.2,800.2 1676.4,799.8 1681.6,804.6 1686.8,806.5 1692.0,804.0 1697.2,798.2 1702.4,794.0 1707.6,798.8 1712.8,806.1 1718.0,804.4 1723.2,797.7 1728.4,797.7 1733.6,802.9 1738.8,805.4 1744.0,803.4 1749.2,801.5 1754.4,797.3 1759.6,791.1 1764.8,790.5 1770.0,798.8 1775.2,810.8 1779.8,815.8 1785.0,806.7 1790.2,791.5 1795.4,780.7 1800.6,783.2 1805.8,796.3 1811.0,805.4 1816.2,803.6 1821.4,800.4 1826.6,804.6 1831.8,808.8 1837.0,809.2 1842.2,806.7 1846.9,800.4 1852.1,794.6 1857.3,798.8 1862.5,808.8 1867.7,814.4 1872.9,811.3 1878.1,803.6 1883.3,798.4 1888.5,802.9 1893.7,810.8 1898.9,812.3 1904.1,807.5 1909.3,805.0 1914.5,804.4 1919.7,802.3 1924.9,800.9 1930.1,801.3 1935.3,799.4 1940.5,795.0 1945.7,796.3 1950.9,802.3 1956.1,803.6 1961.3,800.9 1966.5,799.8 1971.7,803.6 1976.9,810.2 1981.5,812.3 1986.7,806.7 1991.9,801.3 1997.1,798.8 2002.3,795.7 2007.5,793.2 2012.7,796.7 2017.9,801.5 2023.1,799.8 2028.3,794.2 2033.5,794.6 2038.7,801.9 2043.9,808.8 2048.7,807.1 2053.9,799.8 2059.1,799.4 2064.3,808.1 2069.5,816.5 2074.7,815.4 2079.9,806.1 2085.1,798.8 2090.3,795.7 2095.5,794.6 2100.7,795.7 2105.8,800.9 2111.0,805.0" fill="none" stroke="#505050" stroke-width="2.08" stroke-linejoin="round" />
<polyline points="304.6,913.9 322.9,913.7 331.2,914.3 338.5,914.9 345.8,913.9 354.1,912.9 362.4,913.5 370.7,914.3 383.2,914.7 393.6,914.1 404.0,913.5 414.4,912.9 422.7,913.5 428.9,914.5 435.2,914.9 445.6,914.1 456.0,913.7 464.3,913.5 472.6,914.1 478.8,914.7 487.2,914.3 497.6,913.9 508.0,913.7 514.2,914.3 519.4,914.9 528.8,913.9 539.2,913.7 545.4,914.3 551.6,914.5 559.9,913.9 570.3,913.5 580.7,913.7 591.1,913.5 599.5,913.7 604.7,914.5 609.2,914.7 616.1,912.2 621.9,911.2 627.1,912.2 632.7,913.9 637.9,914.7 643.1,913.3 649.0,909.7 653.5,914.3 658.1,927.8 663.5,960.5 668.7,955.9 673.9,903.9 678.9,851.9 684.1,860.2 689.3,912.2 694.5,948.6 699.7,957.4 704.9,926.8 710.1,882.1 715.3,864.8 720.5,892.5 725.7,938.2 730.9,958.0 735.7,933.0 740.9,888.3 746.1,873.1 751.3,898.7 756.5,937.2 761.4,948.2 766.6,922.6 771.8,889.4 777.0,884.2 782.2,910.1 787.4,938.6 792.6,940.9 797.8,916.4 803.0,893.5 808.2,894.6 813.4,921.6 818.6,944.9 823.8,937.8 828.6,908.1 833.8,883.7 839.4,887.3 844.6,911.2 849.4,930.5 854.6,925.7 859.8,906.6 865.0,896.6 870.6,903.9 875.8,922.0 880.6,932.0 885.8,923.7 891.0,912.2 896.2,913.3 901.4,922.6 906.6,926.8 911.8,921.2 917.0,904.9 922.2,888.9 926.8,890.0 932.0,908.1 937.6,926.4 942.8,926.8 947.6,912.2 952.8,899.3 958.0,905.6 963.2,924.7 968.4,936.6 973.6,933.0 978.8,917.4 984.0,901.4 989.2,891.4 994.3,896.2 999.5,910.1 1004.7,920.1 1009.9,923.0 1014.7,922.2 1019.9,919.5 1025.1,914.3 1030.3,909.1 1035.3,907.0 1038.0,908.1 1043.2,911.2 1049.5,916.0 1056.3,920.1 1061.5,918.9 1066.7,913.9 1071.9,909.7 1077.1,909.7 1082.3,911.2 1087.5,912.2 1092.7,914.3 1097.9,918.5 1102.9,922.2 1108.1,919.9 1113.3,913.3 1118.5,907.7 1123.7,905.6 1128.9,907.4 1134.1,913.3 1139.3,920.5 1144.5,924.1 1149.3,921.6 1154.5,915.3 1159.7,909.7 1164.9,906.6 1170.1,905.4 1175.3,905.6 1180.5,908.5 1185.7,913.7 1190.5,917.0 1195.7,916.4 1200.8,911.8 1206.0,908.1 1210.0,907.7 1216.2,914.3 1221.4,921.2 1226.6,923.2 1231.8,917.4 1237.0,909.7 1242.2,906.0 1247.4,908.5 1252.6,915.3 1257.8,921.6 1263.0,922.2 1268.2,917.0 1273.4,912.6 1278.6,912.2 1283.8,914.7 1289.0,915.3 1294.2,912.9 1299.4,908.7 1304.0,906.4 1309.2,908.7 1314.4,914.9 1319.6,920.1 1324.8,921.0 1330.0,917.4 1335.2,913.7 1340.4,912.2 1345.6,911.6 1350.8,910.1 1356.0,909.5 1361.8,910.1 1366.4,911.6 1371.6,913.3 1376.8,914.9 1382.0,915.3 1387.2,913.9 1392.4,912.2 1397.6,912.9 1402.8,914.7 1408.0,915.3 1412.7,913.9 1417.9,910.1 1423.1,909.5 1428.3,913.3 1433.5,918.9 1438.7,923.0 1443.9,922.6 1449.1,917.4 1453.7,911.8 1458.9,909.7 1464.1,912.2 1469.3,915.3 1474.5,914.3 1479.7,909.7 1484.9,907.0 1490.1,909.1 1495.3,913.3 1500.5,916.4 1505.7,917.4 1510.9,916.4 1516.1,913.9 1521.3,913.3 1526.5,915.3 1531.7,916.8 1536.9,914.3 1541.7,910.1 1546.9,908.7 1552.1,911.8 1557.3,916.0 1562.5,917.8 1567.7,916.4 1572.9,912.2 1578.1,908.7 1583.3,910.1 1588.5,914.9 1593.7,918.1 1598.9,917.0 1604.1,914.3 1609.3,912.9 1614.5,914.3 1619.7,916.8 1624.9,917.8 1630.1,916.0 1635.3,912.2 1640.5,909.7 1645.7,909.7 1650.8,911.8 1656.0,914.3 1660.0,914.9 1665.4,913.9 1670.6,912.6 1675.8,913.3 1681.0,914.7 1686.2,915.3 1691.4,914.3 1696.6,911.6 1701.8,910.1 1707.0,911.6 1712.2,914.7 1717.4,917.0 1722.6,917.4 1727.8,915.3 1733.0,912.6 1738.2,911.8 1743.4,913.7 1748.6,916.0 1753.8,916.4 1759.0,914.7 1764.2,913.3 1769.4,913.3 1774.6,913.9 1779.8,914.3 1785.0,913.9 1790.2,913.7 1795.4,913.7 1800.6,914.3 1805.8,914.9 1811.0,915.8 1816.2,915.8 1821.4,914.9 1826.6,914.7 1831.8,915.8 1837.0,915.3 1842.2,912.9 1847.4,910.8 1852.6,910.6 1857.8,912.9 1863.0,915.3 1867.7,916.4 1872.9,914.9 1878.1,911.8 1883.3,910.1 1888.5,911.8 1893.7,915.8 1898.9,917.4 1904.1,914.3 1909.3,910.1 1913.9,908.7 1919.1,909.7 1924.3,912.2 1929.5,914.3 1934.7,914.7 1939.9,912.9 1945.1,911.2 1950.3,911.8 1955.5,914.3 1960.7,916.4 1965.9,916.0 1971.1,914.3 1976.3,913.7 1981.5,914.3 1986.7,915.3 1991.9,915.8 1997.1,914.9 2002.3,914.3 2007.5,914.3 2012.7,914.9 2017.9,915.8 2023.1,916.0 2028.3,914.3 2033.5,913.3 2038.7,913.7 2043.9,914.9 2049.1,915.3 2054.3,914.3 2059.5,913.3 2064.7,913.7 2069.9,914.9 2075.1,915.3 2080.3,914.3 2085.5,912.9 2090.7,912.2 2095.9,913.3 2102.1,914.7 2107.3,915.8 2112.5,915.3" fill="none" stroke="#505050" stroke-width="2.08" stroke-linejoin="round" />
<polyline points="304.6,1029.7 310.8,1038.0 316.2,1032.4 321.4,1019.9 326.6,1014.1 331.8,1019.3 337.0,1028.3 342.2,1031.4 347.4,1028.3 353.0,1024.1 358.2,1021.8 363.0,1022.0 368.2,1026.0 373.4,1030.3 378.6,1030.8 383.8,1027.2 388.4,1023.9 393.6,1023.9 398.8,1024.1 404.0,1023.1 409.2,1021.4 414.4,1019.3 419.2,1019.9 424.4,1026.6 429.6,1034.9 435.2,1038.0 440.4,1030.8 445.6,1021.8 450.8,1018.3 456.0,1018.9 461.2,1024.1 466.4,1030.3 471.1,1032.4 476.3,1030.8 481.5,1027.6 486.7,1025.1 491.9,1024.9 496.5,1026.6 501.7,1027.2 506.9,1022.0 512.1,1016.8 517.3,1019.7 522.5,1025.6 527.7,1031.2 532.9,1032.2 538.1,1028.7 542.9,1027.2 548.1,1029.1 553.3,1028.7 558.5,1026.6 563.7,1023.9 568.9,1021.0 574.5,1021.4 579.7,1027.2 584.9,1032.8 590.1,1028.7 595.3,1021.8 600.1,1022.4 605.3,1028.1 610.5,1030.3 615.7,1025.6 621.3,1019.3 626.5,1026.6 631.7,1043.2 636.5,1062.6 641.7,1052.2 646.7,1000.6 651.9,971.1 657.1,999.6 662.3,1050.1 667.5,1070.3 672.7,1053.6 677.9,1008.9 683.1,983.6 688.3,993.7 693.5,1033.9 698.2,1062.6 703.4,1054.7 708.6,1018.3 713.8,990.8 719.0,989.2 724.2,1024.5 729.4,1056.8 734.6,1057.8 739.8,1022.4 744.6,990.8 750.2,996.5 755.4,1032.8 760.4,1053.2 765.6,1045.3 770.8,1022.4 776.0,1013.1 781.2,1024.5 786.4,1041.8 791.6,1047.8 796.8,1034.9 802.0,1014.1 807.2,1006.2 812.4,1020.4 817.2,1034.3 822.4,1025.1 827.6,1004.8 832.8,997.1 838.0,1013.1 843.2,1044.3 848.4,1060.9 853.6,1043.7 858.1,1019.7 863.3,1016.8 869.2,1038.0 874.2,1055.1 879.3,1044.9 884.5,1007.9 889.7,975.0 894.9,978.2 899.7,1015.2 904.9,1058.4 910.1,1063.4 915.3,1027.2 920.5,991.9 926.1,1002.3 930.9,1043.2 936.1,1082.8 941.3,1075.5 946.1,1025.6 951.1,974.0 956.5,964.2 961.7,997.5 966.9,1044.9 972.1,1061.5 977.3,1047.4 982.5,1022.4 987.7,1013.5 992.9,1028.7 998.1,1043.9 1003.3,1037.0 1008.5,1010.0 1013.7,995.0 1019.3,1005.8 1024.1,1037.0 1029.3,1067.2 1034.5,1055.7 1039.7,1016.2 1044.7,985.0 1049.9,988.5 1055.1,1019.3 1060.3,1052.6 1065.5,1068.6 1070.7,1060.9 1075.9,1034.3 1080.7,1007.9 1085.8,998.5 1091.0,1010.6 1096.2,1026.6 1101.4,1035.5 1106.6,1038.5 1111.8,1040.1 1116.6,1037.4 1121.8,1027.2 1127.4,1015.2 1132.2,1014.1 1137.8,1017.2 1143.0,1016.8 1148.2,1015.6 1153.4,1015.6 1158.6,1017.2 1163.8,1021.4 1169.0,1026.0 1174.2,1028.1 1179.4,1028.1 1184.6,1026.6 1189.8,1024.5 1195.0,1023.9 1200.2,1021.4 1205.4,1015.6 1210.0,1014.8 1215.2,1024.5 1220.4,1037.0 1225.6,1044.3 1230.8,1043.7 1236.0,1037.0 1241.2,1032.8 1246.4,1033.3 1251.6,1034.5 1256.1,1033.9 1261.3,1027.2 1266.5,1016.2 1271.7,1012.7 1276.9,1023.5 1282.1,1035.3 1287.3,1036.6 1292.5,1022.4 1297.3,1007.9 1302.5,1005.4 1307.7,1018.3 1312.9,1028.3 1318.1,1021.4 1323.3,1005.8 1328.5,996.9 1333.7,1006.8 1338.9,1031.8 1344.1,1048.0 1349.3,1042.6 1354.5,1024.1 1359.7,1016.8 1364.9,1026.2 1370.1,1041.2 1375.3,1049.5 1380.5,1044.9 1385.1,1026.6 1390.3,1007.9 1395.5,1005.4 1400.7,1024.9 1405.9,1045.3 1411.1,1045.7 1416.3,1027.2 1421.5,1013.7 1426.7,1015.6 1431.9,1026.2 1437.1,1031.2 1442.3,1023.1 1447.1,1008.5 1452.3,1005.4 1457.9,1021.0 1463.1,1038.0 1468.3,1047.0 1473.5,1042.8 1478.2,1031.8 1483.4,1022.4 1488.6,1020.4 1493.8,1026.2 1499.0,1036.0 1504.2,1033.5 1509.4,1017.2 1514.6,1006.2 1519.8,1017.9 1525.0,1038.0 1530.2,1047.4 1535.4,1038.0 1540.6,1021.0 1545.8,1008.9 1551.0,1010.6 1556.2,1021.4 1561.4,1032.4 1566.6,1037.4 1571.8,1032.4 1576.4,1027.2 1581.6,1030.1 1586.8,1036.4 1592.0,1033.3 1597.2,1022.0 1602.4,1013.5 1607.6,1013.1 1612.8,1021.0 1618.0,1029.7 1623.2,1033.3 1628.4,1031.8 1633.6,1028.3 1638.8,1021.0 1644.0,1014.5 1649.2,1017.9 1654.4,1026.0 1660.0,1027.6 1664.8,1023.1 1669.6,1021.0 1674.8,1022.4 1680.0,1026.0 1685.2,1029.3 1690.4,1030.1 1695.6,1028.7 1700.8,1028.3 1705.9,1027.2 1711.1,1023.9 1716.3,1022.9 1721.5,1026.0 1726.7,1023.9 1731.5,1019.7 1736.7,1024.5 1742.3,1030.8 1747.5,1030.3 1752.7,1026.2 1757.9,1023.9 1763.1,1024.5 1768.3,1027.2 1773.5,1029.7 1778.7,1031.4 1783.9,1030.8 1789.1,1029.1 1794.3,1030.1 1799.1,1033.9 1804.3,1036.0 1809.5,1031.2 1814.7,1022.0 1819.9,1016.8 1825.1,1019.7 1830.3,1026.2 1835.5,1029.3 1840.7,1028.7 1845.3,1026.6 1850.5,1019.3 1855.7,1012.5 1860.9,1017.7 1866.1,1028.3 1871.3,1031.2 1876.5,1027.2 1881.7,1027.6 1886.9,1029.7 1892.1,1027.2 1897.3,1022.0 1902.5,1018.9 1907.7,1018.3 1912.9,1017.2 1918.1,1019.7 1923.3,1025.6 1928.5,1028.3 1933.7,1026.0 1938.9,1023.5 1944.1,1024.5 1949.3,1028.7 1954.5,1033.3 1959.7,1034.3 1964.9,1029.3 1970.1,1022.0 1975.3,1019.9 1980.0,1028.3 1985.2,1038.0 1990.4,1039.7 1995.6,1031.8 2000.8,1024.5 2006.0,1021.4 2011.2,1023.9 2016.4,1030.8 2021.6,1033.9 2026.8,1026.2 2032.0,1016.6 2037.2,1013.7 2042.4,1024.5 2047.0,1037.4 2052.2,1038.0 2057.4,1023.5 2062.6,1013.1 2067.8,1012.7 2073.0,1022.0 2078.2,1034.5 2083.4,1041.2 2088.6,1034.3 2093.8,1019.9 2099.0,1012.5 2104.2,1015.8 2109.4,1022.9 2112.5,1025.1" fill="none" stroke="#505050" stroke-width="2.08" stroke-linejoin="round" />
<polyline points="304.6,1141.4 311.9,1141.6 317.1,1136.4 322.3,1123.9 327.5,1128.5 332.6,1146.8 337.8,1149.9 343.0,1141.0 348.2,1138.5 353.4,1136.8 358.6,1128.9 363.8,1127.0 369.0,1135.8 374.2,1137.4 379.0,1127.5 384.2,1130.6 389.4,1145.8 395.0,1153.0 400.2,1148.9 405.4,1141.6 410.6,1134.1 415.8,1132.7 421.0,1138.9 425.8,1143.5 431.0,1141.4 436.2,1138.3 441.4,1136.8 446.6,1137.4 451.8,1146.2 457.0,1154.9 462.2,1142.4 467.0,1122.9 472.2,1117.1 477.4,1128.5 482.6,1140.6 487.8,1149.9 493.0,1150.3 498.2,1135.8 502.8,1121.2 508.0,1124.3 513.2,1142.0 518.8,1156.6 524.0,1153.5 528.8,1134.7 534.0,1117.7 539.2,1125.0 544.3,1146.8 549.5,1160.7 554.7,1152.8 559.9,1136.8 565.1,1130.6 570.3,1131.0 575.5,1133.7 580.7,1138.9 585.9,1139.5 591.1,1135.2 596.3,1133.7 601.5,1137.9 606.3,1144.1 611.5,1142.6 616.7,1133.7 621.9,1125.8 627.1,1124.3 632.3,1135.8 637.5,1151.8 642.7,1152.8 647.9,1135.8 653.5,1123.3 658.1,1149.3 663.3,1177.0 668.5,1177.4 673.7,1130.6 678.9,1085.2 684.1,1093.2 689.3,1142.0 694.5,1172.2 699.7,1183.6 704.9,1145.1 710.1,1094.2 715.3,1076.5 720.5,1115.0 725.7,1174.9 730.9,1196.7 735.7,1151.4 740.9,1095.2 746.1,1092.1 751.3,1145.1 756.0,1185.3 761.4,1184.0 766.6,1143.1 771.8,1101.1 777.0,1079.6 782.2,1111.9 787.4,1164.9 792.6,1179.5 797.8,1139.9 803.0,1097.9 808.2,1098.8 813.4,1147.8 818.6,1195.0 823.8,1185.3 828.6,1135.8 833.8,1099.0 839.4,1105.2 844.6,1139.9 849.4,1164.9 854.6,1168.0 859.8,1139.5 865.0,1110.8 870.2,1115.6 875.4,1159.7 880.6,1187.4 885.8,1166.6 891.0,1121.2 896.2,1106.7 901.4,1128.5 906.0,1157.0 911.6,1165.9 916.8,1140.4 921.6,1099.4 926.8,1090.4 932.4,1133.7 937.6,1172.2 942.8,1179.9 947.6,1143.1 952.8,1105.2 958.0,1109.4 963.2,1143.1 968.4,1169.1 973.6,1170.5 978.8,1149.3 984.0,1115.4 989.2,1097.9 994.3,1118.1 999.5,1150.8 1004.7,1165.3 1009.9,1159.7 1014.7,1144.1 1019.9,1127.0 1025.1,1121.6 1030.3,1122.7 1035.5,1121.8 1040.7,1126.4 1045.3,1141.0 1050.5,1156.6 1056.7,1153.5 1061.5,1143.1 1066.7,1134.1 1071.9,1127.5 1077.1,1123.3 1082.1,1123.7 1087.3,1138.9 1092.5,1152.8 1097.7,1145.1 1102.5,1127.0 1107.7,1116.4 1112.9,1127.5 1118.1,1148.3 1123.3,1150.3 1128.5,1139.9 1133.7,1140.6 1138.9,1145.8 1144.1,1141.6 1148.9,1141.4 1154.1,1147.2 1159.3,1136.2 1164.5,1113.9 1169.7,1112.9 1174.9,1129.5 1180.1,1142.4 1185.3,1146.6 1190.5,1137.4 1195.7,1121.8 1200.8,1120.2 1205.4,1136.8 1210.0,1152.4 1216.2,1154.1 1221.4,1142.4 1226.6,1123.3 1231.8,1112.9 1237.0,1128.5 1242.2,1150.3 1247.4,1158.2 1252.6,1151.4 1257.8,1139.9 1263.0,1137.2 1268.2,1144.1 1272.8,1152.0 1278.0,1151.8 1283.2,1142.6 1288.4,1134.1 1293.6,1136.8 1298.8,1150.8 1304.0,1154.9 1309.2,1139.9 1314.0,1126.0 1319.2,1126.4 1324.4,1132.7 1329.6,1136.8 1334.8,1137.9 1340.0,1138.3 1345.2,1135.2 1350.4,1125.8 1355.6,1118.5 1360.8,1124.3 1365.9,1139.9 1371.1,1147.2 1376.3,1141.6 1381.5,1136.4 1386.7,1137.9 1391.9,1144.5 1397.1,1154.5 1402.3,1156.0 1406.9,1138.3 1412.1,1123.7 1417.3,1132.0 1422.5,1141.0 1427.7,1135.2 1432.9,1133.3 1438.1,1136.8 1443.3,1133.7 1448.5,1133.1 1453.7,1146.2 1458.9,1155.1 1464.1,1143.1 1469.3,1129.1 1474.5,1131.2 1479.7,1140.6 1484.9,1143.1 1490.1,1141.0 1495.3,1137.9 1500.5,1134.7 1505.7,1133.3 1510.9,1130.6 1516.1,1134.7 1520.9,1152.8 1526.1,1160.3 1531.3,1138.9 1536.5,1116.6 1541.7,1123.7 1546.9,1145.8 1552.1,1150.8 1557.3,1137.9 1562.5,1127.5 1567.7,1124.8 1572.9,1130.2 1578.1,1143.1 1583.3,1151.0 1588.5,1146.8 1593.7,1133.7 1598.2,1125.0 1603.4,1133.1 1608.6,1149.3 1613.8,1157.2 1619.0,1150.3 1624.2,1136.2 1629.4,1128.5 1634.6,1134.3 1639.8,1145.1 1645.0,1148.9 1650.2,1137.9 1655.4,1122.3 1660.0,1119.8 1666.0,1138.5 1671.2,1155.5 1676.4,1157.0 1681.6,1137.4 1686.8,1122.3 1692.0,1123.7 1697.2,1132.7 1702.4,1140.6 1707.6,1138.9 1712.8,1128.1 1718.0,1126.0 1723.2,1135.8 1728.4,1142.6 1733.0,1145.1 1738.2,1142.6 1743.4,1133.7 1748.6,1128.5 1753.8,1136.8 1759.0,1145.1 1763.8,1142.0 1769.0,1133.1 1774.2,1135.2 1779.4,1142.4 1784.6,1144.1 1789.8,1141.4 1795.0,1138.5 1800.2,1132.2 1805.4,1128.1 1810.6,1138.3 1815.8,1149.7 1820.9,1151.4 1826.1,1145.8 1831.3,1137.9 1836.5,1128.9 1841.7,1123.3 1846.9,1130.2 1851.5,1145.8 1856.7,1149.9 1861.9,1135.8 1867.1,1127.5 1872.3,1135.2 1877.5,1142.6 1882.7,1143.5 1887.9,1142.0 1893.1,1141.6 1898.3,1139.9 1903.5,1135.2 1908.7,1135.8 1913.9,1143.7 1919.1,1146.2 1924.3,1138.9 1929.5,1131.2 1934.7,1130.0 1939.9,1137.4 1945.1,1139.3 1950.3,1129.1 1955.5,1127.0 1960.3,1136.4 1965.5,1141.0 1970.7,1146.8 1975.9,1154.5 1981.1,1147.2 1986.3,1128.5 1991.5,1120.2 1996.7,1134.7 2001.9,1152.8 2007.1,1156.6 2012.3,1145.1 2017.5,1134.1 2022.7,1127.5 2027.9,1131.6 2033.1,1142.0 2038.3,1145.1 2043.5,1141.0 2048.7,1136.4 2053.2,1132.7 2058.4,1132.7 2063.6,1142.6 2068.8,1147.8 2074.0,1137.4 2079.2,1125.4 2084.4,1127.5 2089.6,1138.5 2094.8,1141.6 2100.0,1136.4 2105.2,1132.0 2110.4,1130.6 2112.5,1130.6" fill="none" stroke="#505050" stroke-width="2.08" stroke-linejoin="round" />
<polyline points="304.6,1251.1 309.4,1251.5 314.6,1249.5 319.8,1248.4 325.0,1249.9 330.2,1251.5 335.4,1252.0 340.6,1251.1 345.8,1250.5 350.9,1249.5 356.1,1250.1 361.3,1251.5 366.5,1251.5 371.7,1248.0 376.9,1245.7 382.1,1247.0 387.3,1250.5 392.5,1252.2 397.7,1252.0 402.9,1250.1 408.1,1247.8 413.3,1247.0 418.5,1250.1 423.7,1255.1 428.9,1255.7 434.1,1250.5 439.3,1245.7 444.5,1246.3 449.7,1250.1 454.9,1253.0 460.1,1253.6 465.3,1250.9 470.5,1247.4 475.7,1246.8 480.9,1250.1 486.1,1253.2 491.3,1251.5 496.5,1247.4 501.7,1245.7 506.9,1247.4 512.1,1251.1 517.3,1253.0 522.5,1252.2 528.8,1251.1 534.0,1250.9 539.2,1250.1 544.3,1249.5 549.5,1249.9 554.7,1250.9 559.9,1251.1 565.1,1249.1 570.3,1246.3 574.5,1245.9 579.7,1249.9 584.9,1253.0 590.1,1252.6 595.3,1248.4 600.5,1246.3 605.7,1247.0 610.9,1247.8 616.1,1247.8 621.3,1248.0 626.5,1250.5 631.7,1252.6 636.9,1251.5 642.1,1248.4 647.3,1244.9 651.4,1243.9 656.0,1259.9 661.2,1284.8 666.4,1305.2 671.6,1278.6 676.8,1218.3 682.0,1188.1 687.2,1212.0 692.4,1254.7 697.6,1285.9 702.8,1287.3 708.0,1247.4 713.2,1207.3 718.4,1205.2 723.6,1245.3 728.8,1282.7 734.0,1286.5 738.8,1253.6 744.0,1219.9 749.2,1221.0 754.4,1251.5 759.6,1277.5 764.6,1269.8 769.8,1238.7 775.0,1220.8 780.2,1229.7 785.4,1262.6 790.1,1282.7 795.3,1270.7 800.5,1240.1 805.7,1223.9 810.9,1242.2 816.1,1270.9 821.3,1279.0 826.5,1256.7 831.7,1229.7 836.9,1227.2 842.1,1245.9 847.3,1263.6 851.9,1261.3 857.1,1242.2 862.3,1229.3 867.9,1237.0 873.1,1259.9 878.3,1274.8 883.1,1266.1 888.3,1243.2 893.5,1229.3 898.7,1237.0 903.9,1262.6 909.1,1277.1 914.3,1264.0 919.5,1234.9 924.7,1218.7 929.9,1228.7 935.1,1251.1 939.9,1265.1 945.1,1262.4 950.3,1247.4 955.5,1237.6 960.7,1244.7 965.9,1266.1 971.1,1280.0 976.3,1268.2 981.5,1247.0 986.7,1233.5 991.9,1232.8 997.1,1239.5 1002.3,1245.9 1007.5,1248.0 1013.1,1248.0 1019.3,1250.5 1024.1,1253.6 1028.0,1253.0 1033.2,1249.1 1038.4,1246.3 1043.6,1247.0 1048.8,1251.5 1054.0,1255.7 1059.2,1256.7 1064.4,1254.2 1069.6,1251.1 1074.8,1250.5 1080.0,1251.5 1084.8,1250.9 1090.0,1247.4 1095.2,1245.3 1100.4,1246.3 1105.6,1250.1 1110.8,1253.6 1116.0,1254.0 1121.2,1250.1 1126.4,1245.3 1131.6,1243.9 1136.8,1248.4 1142.0,1257.8 1146.8,1263.6 1152.0,1260.9 1157.2,1252.6 1162.4,1245.9 1167.6,1244.3 1172.8,1245.3 1178.0,1246.3 1183.2,1246.8 1188.4,1246.3 1193.6,1244.9 1198.8,1243.6 1204.0,1243.2 1210.0,1244.7 1215.6,1248.4 1220.8,1252.2 1226.0,1255.1 1229.1,1256.1 1234.3,1254.2 1239.5,1249.5 1244.7,1245.9 1249.9,1247.0 1255.1,1251.5 1260.3,1256.7 1265.5,1260.9 1270.7,1260.3 1275.9,1255.7 1281.1,1252.6 1286.3,1253.6 1291.5,1257.2 1296.7,1256.7 1301.9,1251.5 1307.1,1245.7 1312.3,1243.6 1317.5,1245.9 1322.7,1250.5 1327.9,1253.0 1333.1,1251.1 1338.3,1247.4 1343.5,1246.3 1348.7,1247.0 1353.5,1245.9 1358.7,1241.1 1363.9,1238.0 1369.1,1240.7 1374.3,1247.0 1379.5,1253.2 1384.7,1256.1 1389.9,1253.0 1395.1,1246.8 1400.3,1243.9 1405.5,1246.8 1410.7,1253.6 1415.9,1260.3 1421.1,1259.9 1426.3,1252.6 1431.5,1247.0 1436.7,1249.1 1441.9,1255.7 1447.1,1259.9 1452.3,1256.7 1457.5,1250.1 1462.0,1246.8 1467.2,1248.0 1472.4,1251.1 1477.6,1252.0 1482.8,1248.8 1488.0,1245.3 1493.2,1244.9 1498.4,1248.4 1503.6,1252.2 1508.8,1253.0 1514.0,1249.5 1519.2,1245.9 1524.4,1245.9 1529.6,1249.5 1534.8,1253.2 1540.0,1252.6 1545.2,1249.1 1550.4,1245.9 1555.6,1245.9 1560.8,1249.9 1566.0,1253.6 1571.2,1252.6 1576.4,1248.8 1581.6,1246.8 1586.8,1248.0 1592.0,1251.1 1597.2,1254.7 1602.4,1255.7 1607.6,1252.0 1612.8,1247.0 1618.0,1245.3 1623.2,1247.0 1628.4,1248.4 1633.6,1246.8 1638.8,1244.3 1644.0,1243.9 1649.2,1246.3 1654.4,1249.9 1660.0,1252.2 1665.4,1252.0 1670.6,1250.5 1675.8,1250.5 1681.0,1252.6 1686.2,1253.6 1691.4,1252.0 1696.6,1247.8 1701.8,1245.7 1707.0,1247.4 1712.2,1251.1 1717.4,1252.2 1722.6,1249.5 1727.8,1245.7 1733.0,1244.9 1738.2,1248.0 1743.4,1252.6 1748.6,1254.2 1753.8,1252.2 1759.0,1248.0 1764.2,1246.3 1769.4,1248.4 1774.6,1252.6 1779.8,1255.1 1785.0,1253.6 1790.2,1249.5 1795.4,1247.4 1800.6,1249.5 1805.8,1252.6 1811.0,1253.6 1816.2,1250.9 1821.4,1248.4 1826.6,1249.5 1831.8,1253.0 1837.0,1254.2 1842.2,1251.5 1847.4,1247.4 1852.6,1244.9 1857.8,1245.9 1863.0,1250.1 1868.2,1252.2 1873.4,1249.9 1878.6,1246.8 1883.8,1245.9 1889.0,1249.5 1894.2,1254.2 1899.3,1254.7 1904.5,1249.9 1909.7,1245.3 1914.9,1244.7 1920.1,1248.0 1925.3,1252.2 1930.5,1253.0 1935.7,1248.4 1940.9,1244.7 1946.1,1244.9 1951.3,1248.0 1956.5,1251.5 1961.7,1252.2 1966.9,1249.5 1972.1,1246.3 1977.3,1246.3 1982.5,1249.5 1987.7,1252.2 1992.9,1252.6 1998.1,1251.5 2003.3,1250.5 2008.5,1251.1 2013.7,1253.6 2018.9,1255.7 2024.1,1253.0 2029.3,1248.8 2034.5,1247.4 2039.7,1249.9 2044.9,1253.6 2050.1,1255.1 2055.3,1253.0 2060.5,1249.5 2065.7,1247.4 2070.9,1248.8 2076.1,1251.1 2081.3,1252.0 2086.5,1249.5 2091.7,1247.0 2096.9,1247.4 2102.1,1250.1 2107.3,1252.0 2112.5,1250.5" fill="none" stroke="#505050" stroke-width="2.08" stroke-linejoin="round" />
<polyline points="304.6,1363.8 308.3,1358.6 312.5,1354.5 317.1,1352.0 321.8,1356.6 327.0,1367.6 332.2,1375.9 337.4,1371.1 342.6,1359.3 347.8,1354.9 353.0,1358.2 358.2,1362.8 363.4,1363.8 368.6,1362.2 373.8,1360.3 379.0,1360.1 384.2,1362.8 389.4,1365.5 394.6,1367.0 399.8,1366.3 405.0,1362.4 410.2,1359.1 415.4,1359.7 420.6,1360.1 425.8,1358.0 431.0,1357.2 436.2,1360.3 441.4,1363.2 446.6,1362.8 451.8,1359.7 457.0,1357.6 462.2,1359.3 467.4,1363.4 472.6,1366.3 477.8,1364.5 483.0,1362.2 488.2,1359.3 493.4,1356.1 497.6,1356.1 502.8,1363.8 508.0,1369.7 513.2,1369.0 518.4,1365.9 523.6,1361.1 528.8,1357.6 534.0,1359.3 539.2,1365.9 544.3,1369.5 549.5,1367.0 554.7,1361.8 559.9,1358.6 565.1,1357.6 570.3,1356.6 575.5,1358.2 580.7,1363.2 585.9,1366.5 591.1,1366.5 596.3,1363.8 601.5,1359.3 606.7,1355.5 611.5,1355.9 616.7,1361.1 621.9,1364.3 627.1,1364.3 632.3,1364.9 637.5,1363.8 642.7,1358.6 647.7,1354.5 652.9,1362.8 658.1,1390.9 663.3,1414.2 668.5,1400.2 673.7,1347.2 678.9,1300.4 684.1,1310.2 689.3,1357.6 694.5,1390.9 699.3,1404.8 704.5,1382.6 709.7,1341.0 714.9,1309.2 720.1,1328.5 725.3,1373.2 730.1,1413.1 735.3,1395.0 740.5,1345.1 745.7,1326.0 750.8,1349.3 756.0,1381.5 761.0,1388.4 766.2,1370.1 771.4,1342.0 776.6,1326.8 781.8,1342.0 787.0,1374.2 792.2,1385.1 797.4,1365.5 802.6,1348.2 807.8,1354.9 813.0,1380.5 818.2,1393.0 823.4,1381.1 828.6,1350.3 833.8,1331.6 839.0,1344.7 844.2,1369.0 849.4,1380.5 854.6,1373.2 859.8,1356.6 864.4,1345.1 869.6,1355.1 874.8,1385.7 880.0,1406.1 885.2,1390.9 890.4,1351.4 895.6,1316.6 900.8,1319.1 905.6,1344.1 910.8,1360.7 915.9,1368.6 921.1,1374.7 926.3,1375.7 931.5,1367.6 936.7,1363.8 941.9,1372.8 947.1,1376.7 952.3,1367.0 957.5,1359.1 962.7,1364.9 967.9,1368.0 973.1,1352.4 978.3,1332.6 983.5,1338.5 988.7,1370.7 993.9,1389.8 999.1,1380.5 1004.3,1359.3 1009.3,1345.1 1014.1,1337.8 1019.7,1345.1 1024.9,1362.8 1030.1,1376.7 1035.3,1376.3 1040.5,1365.3 1045.7,1359.7 1050.5,1364.9 1055.7,1369.5 1060.9,1365.3 1066.1,1356.1 1071.3,1352.0 1076.5,1358.0 1081.7,1368.0 1086.9,1372.2 1092.1,1366.3 1097.3,1353.0 1102.5,1347.8 1107.3,1359.7 1112.5,1375.7 1117.7,1379.9 1122.9,1369.7 1128.1,1354.5 1133.3,1350.7 1138.5,1363.8 1143.7,1376.3 1148.9,1377.4 1154.1,1361.8 1159.3,1345.8 1164.5,1339.5 1169.7,1346.2 1174.9,1358.6 1180.1,1364.3 1185.3,1362.2 1189.8,1361.3 1195.0,1367.0 1200.2,1372.8 1205.4,1374.2 1210.0,1365.9 1215.6,1350.3 1220.8,1343.5 1226.0,1349.7 1231.2,1363.8 1236.4,1375.9 1241.6,1373.2 1246.8,1361.1 1252.0,1354.9 1257.2,1361.1 1262.4,1373.2 1267.2,1376.9 1272.4,1365.3 1277.6,1352.0 1282.8,1348.9 1288.0,1359.3 1293.2,1372.2 1298.4,1378.0 1303.6,1370.1 1308.8,1357.6 1314.0,1349.7 1319.2,1350.7 1324.4,1359.1 1329.6,1365.3 1334.8,1364.5 1340.0,1362.4 1345.2,1360.7 1350.4,1359.3 1355.6,1358.6 1360.8,1359.1 1365.9,1358.6 1371.1,1359.1 1376.3,1362.4 1381.5,1366.3 1386.7,1367.4 1391.9,1361.8 1396.5,1354.1 1401.7,1351.8 1406.9,1356.1 1412.1,1365.3 1417.3,1374.7 1422.5,1375.3 1427.7,1366.5 1432.9,1361.1 1438.1,1362.8 1443.3,1364.9 1448.5,1361.8 1453.7,1357.6 1458.5,1355.5 1463.7,1358.6 1468.9,1363.8 1474.1,1368.6 1479.3,1368.0 1484.5,1361.8 1489.7,1356.1 1494.9,1356.1 1500.1,1361.1 1505.3,1366.5 1510.5,1365.9 1515.7,1361.8 1520.9,1361.8 1526.1,1365.3 1531.3,1369.7 1535.8,1372.2 1541.0,1368.0 1546.2,1356.6 1551.4,1346.6 1556.6,1347.6 1561.8,1356.6 1567.0,1364.9 1572.2,1365.9 1577.4,1359.7 1582.6,1356.1 1587.8,1361.8 1593.0,1369.5 1598.2,1371.1 1603.4,1366.5 1608.6,1360.7 1613.8,1357.6 1619.0,1360.3 1624.2,1366.3 1629.4,1368.6 1634.6,1365.9 1639.8,1361.8 1645.0,1358.2 1650.2,1357.0 1655.4,1358.6 1660.0,1361.3 1665.4,1359.7 1670.6,1357.6 1675.8,1360.3 1681.0,1364.3 1686.2,1365.3 1691.4,1361.8 1696.6,1359.7 1701.8,1362.8 1707.0,1367.0 1712.2,1369.0 1717.4,1367.0 1722.6,1364.3 1727.8,1362.8 1733.0,1360.3 1738.2,1357.2 1743.4,1358.2 1748.6,1362.2 1753.8,1361.8 1759.0,1357.6 1763.1,1355.5 1768.3,1359.3 1773.5,1367.4 1778.3,1369.0 1783.5,1364.9 1789.1,1361.1 1794.3,1360.7 1799.5,1362.2 1804.7,1363.2 1809.9,1363.8 1815.1,1362.8 1820.3,1360.3 1825.5,1358.6 1830.7,1359.3 1835.9,1360.7 1841.1,1363.4 1846.3,1365.9 1851.5,1365.3 1856.7,1362.8 1861.9,1362.4 1867.1,1362.2 1872.3,1359.7 1877.5,1356.6 1882.3,1355.9 1887.5,1360.3 1892.7,1365.9 1897.9,1368.0 1903.1,1364.5 1908.3,1359.1 1913.5,1357.0 1918.7,1358.2 1923.9,1359.7 1929.1,1359.7 1934.3,1358.6 1939.5,1358.0 1944.7,1358.2 1949.9,1359.7 1955.1,1362.4 1960.3,1366.5 1965.5,1370.1 1970.7,1369.7 1975.9,1363.2 1981.1,1357.0 1986.3,1357.6 1991.5,1364.9 1996.7,1371.1 2001.9,1372.2 2007.1,1368.0 2012.3,1360.7 2017.5,1355.1 2022.7,1357.2 2027.9,1366.5 2032.4,1372.8 2037.6,1370.1 2042.8,1359.7 2048.0,1350.7 2053.2,1349.7 2058.4,1357.2 2063.6,1364.5 2068.8,1367.4 2074.0,1366.5 2079.2,1363.4 2084.4,1358.2 2089.6,1355.1 2094.8,1356.1 2100.0,1361.8 2105.2,1368.0 2110.4,1369.7 2112.5,1368.0" fill="none" stroke="#505050" stroke-width="2.08" stroke-linejoin="round" />
</g>
<text x="325.37" y="227.6" font-size="44.3" fill="#000" stroke="#000" stroke-width="0.3" textLength="236.64" lengthAdjust="spacing">608800589</text>
<text x="577.54" y="227.6" font-size="44.3" fill="#000" stroke="#000" stroke-width="0.3">|</text>
<text x="604.88" y="227.6" font-size="44.3" fill="#000" stroke="#000" stroke-width="0.3" textLength="90.18" lengthAdjust="spacing">1.00</text>
<text x="325.78" y="339.7" font-size="44.3" fill="#000" stroke="#000" stroke-width="0.3" textLength="182.74" lengthAdjust="spacing">1335365</text>
<text x="524.61" y="339.7" font-size="44.3" fill="#000" stroke="#000" stroke-width="0.3">|</text>
<text x="551.60" y="339.7" font-size="44.3" fill="#000" stroke="#000" stroke-width="0.3" textLength="90.40" lengthAdjust="spacing">0.80</text>
<text x="325.78" y="451.8" font-size="44.3" fill="#000" stroke="#000" stroke-width="0.3" textLength="183.35" lengthAdjust="spacing">1136536</text>
<text x="524.61" y="451.8" font-size="44.3" fill="#000" stroke="#000" stroke-width="0.3">|</text>
<text x="551.60" y="451.8" font-size="44.3" fill="#000" stroke="#000" stroke-width="0.3" textLength="90.40" lengthAdjust="spacing">0.80</text>
<text x="325.78" y="563.9" font-size="44.3" fill="#000" stroke="#000" stroke-width="0.3" textLength="183.01" lengthAdjust="spacing">1500310</text>
<text x="524.61" y="563.9" font-size="44.3" fill="#000" stroke="#000" stroke-width="0.3">|</text>
<text x="551.60" y="563.9" font-size="44.3" fill="#000" stroke="#000" stroke-width="0.3" textLength="90.59" lengthAdjust="spacing">0.79</text>
<text x="325.78" y="676.0" font-size="44.3" fill="#000" stroke="#000" stroke-width="0.3" textLength="182.97" lengthAdjust="spacing">1500223</text>
<text x="524.61" y="676.0" font-size="44.3" fill="#000" stroke="#000" stroke-width="0.3">|</text>
<text x="551.60" y="676.0" font-size="44.3" fill="#000" stroke="#000" stroke-width="0.3" textLength="90.59" lengthAdjust="spacing">0.79</text>
<text x="325.78" y="788.1" font-size="44.3" fill="#000" stroke="#000" stroke-width="0.3" textLength="182.87" lengthAdjust="spacing">1347844</text>
<text x="524.61" y="788.1" font-size="44.3" fill="#000" stroke="#000" stroke-width="0.3">|</text>
<text x="551.60" y="788.1" font-size="44.3" fill="#000" stroke="#000" stroke-width="0.3" textLength="90.68" lengthAdjust="spacing">0.78</text>
<text x="325.78" y="900.2" font-size="44.3" fill="#000" stroke="#000" stroke-width="0.3" textLength="183.01" lengthAdjust="spacing">1500328</text>
<text x="524.61" y="900.2" font-size="44.3" fill="#000" stroke="#000" stroke-width="0.3">|</text>
<text x="551.60" y="900.2" font-size="44.3" fill="#000" stroke="#000" stroke-width="0.3" textLength="91.01" lengthAdjust="spacing">0.76</text>
<text x="325.78" y="1012.3" font-size="44.3" fill="#000" stroke="#000" stroke-width="0.3" textLength="182.87" lengthAdjust="spacing">1340434</text>
<text x="524.61" y="1012.3" font-size="44.3" fill="#000" stroke="#000" stroke-width="0.3">|</text>
<text x="551.60" y="1012.3" font-size="44.3" fill="#000" stroke="#000" stroke-width="0.3" textLength="91.01" lengthAdjust="spacing">0.76</text>
<text x="325.78" y="1124.4" font-size="44.3" fill="#000" stroke="#000" stroke-width="0.3" textLength="182.97" lengthAdjust="spacing">1335353</text>
<text x="524.61" y="1124.4" font-size="44.3" fill="#000" stroke="#000" stroke-width="0.3">|</text>
<text x="551.60" y="1124.4" font-size="44.3" fill="#000" stroke="#000" stroke-width="0.3" textLength="90.27" lengthAdjust="spacing">0.75</text>
<text x="325.78" y="1236.5" font-size="44.3" fill="#000" stroke="#000" stroke-width="0.3" textLength="182.66" lengthAdjust="spacing">1500257</text>
<text x="524.61" y="1236.5" font-size="44.3" fill="#000" stroke="#000" stroke-width="0.3">|</text>
<text x="551.60" y="1236.5" font-size="44.3" fill="#000" stroke="#000" stroke-width="0.3" textLength="90.27" lengthAdjust="spacing">0.75</text>
<text x="325.78" y="1348.6" font-size="44.3" fill="#000" stroke="#000" stroke-width="0.3" textLength="182.66" lengthAdjust="spacing">1500317</text>
<text x="524.61" y="1348.6" font-size="44.3" fill="#000" stroke="#000" stroke-width="0.3">|</text>
<text x="551.60" y="1348.6" font-size="44.3" fill="#000" stroke="#000" stroke-width="0.3" textLength="90.52" lengthAdjust="spacing">0.74</text>
<rect x="661.6" y="213.2" width="8.3" height="55.6" fill="#ff0000"/>
<rect x="1193.8" y="213.2" width="8.3" height="55.6" fill="#00e400"/>
<rect x="621.8" y="325.3" width="8.3" height="55.6" fill="#ff0000"/>
<rect x="999.9" y="325.3" width="8.3" height="55.6" fill="#00e400"/>
<rect x="388.1" y="437.4" width="8.3" height="55.6" fill="#00e400"/>
<rect x="649.1" y="549.5" width="8.3" height="55.6" fill="#ff0000"/>
<rect x="1030.2" y="549.5" width="8.3" height="55.6" fill="#00e400"/>
<rect x="633.1" y="661.6" width="8.3" height="55.6" fill="#ff0000"/>
<rect x="1023.9" y="661.6" width="8.3" height="55.6" fill="#00e400"/>
<rect x="556.0" y="773.7" width="8.3" height="55.6" fill="#ff0000"/>
<rect x="898.6" y="773.7" width="8.3" height="55.6" fill="#00e400"/>
<rect x="649.1" y="885.8" width="8.3" height="55.6" fill="#ff0000"/>
<rect x="1028.0" y="885.8" width="8.3" height="55.6" fill="#00e400"/>
<rect x="621.9" y="997.9" width="8.3" height="55.6" fill="#ff0000"/>
<rect x="1006.9" y="997.9" width="8.3" height="55.6" fill="#00e400"/>
<rect x="654.1" y="1110.0" width="8.3" height="55.6" fill="#ff0000"/>
<rect x="1047.9" y="1110.0" width="8.3" height="55.6" fill="#00e400"/>
<rect x="651.9" y="1222.1" width="8.3" height="55.6" fill="#ff0000"/>
<rect x="1010.2" y="1222.1" width="8.3" height="55.6" fill="#00e400"/>
<rect x="643.2" y="1334.2" width="8.3" height="55.6" fill="#ff0000"/>
<rect x="1007.6" y="1334.2" width="8.3" height="55.6" fill="#00e400"/>
<text x="417.08" y="1617.5" font-size="44.3" fill="#262626" stroke="#262626" stroke-width="0.3" textLength="80.84" lengthAdjust="spacing">-0.2</text>
<text x="652.15" y="1617.5" font-size="44.3" fill="#262626" stroke="#262626" stroke-width="0.3">0</text>
<text x="840.28" y="1617.5" font-size="44.3" fill="#262626" stroke="#262626" stroke-width="0.3" textLength="64.16" lengthAdjust="spacing">0.2</text>
<text x="1046.28" y="1617.5" font-size="44.3" fill="#262626" stroke="#262626" stroke-width="0.3" textLength="63.16" lengthAdjust="spacing">0.4</text>
<text x="1252.59" y="1617.5" font-size="44.3" fill="#262626" stroke="#262626" stroke-width="0.3" textLength="65.62" lengthAdjust="spacing">0.6</text>
<text x="1459.91" y="1617.5" font-size="44.3" fill="#262626" stroke="#262626" stroke-width="0.3" textLength="65.41" lengthAdjust="spacing">0.8</text>
<text x="1684.06" y="1617.5" font-size="44.3" fill="#262626" stroke="#262626" stroke-width="0.3">1</text>
<text x="1872.54" y="1617.5" font-size="44.3" fill="#262626" stroke="#262626" stroke-width="0.3" textLength="64.89" lengthAdjust="spacing">1.2</text>
<text x="2079.70" y="1617.5" font-size="44.3" fill="#262626" stroke="#262626" stroke-width="0.3" textLength="64.15" lengthAdjust="spacing">1.4</text>
<text x="752.37" y="95.8" font-size="69.8" fill="#000" stroke="#000" stroke-width="0.4" textLength="381.00" lengthAdjust="spacing">608800589</text>
<text x="1134.86" y="95.8" font-size="69.8" fill="#000" stroke="#000" stroke-width="0.4">.</text>
<text x="1154.67" y="95.8" font-size="69.8" fill="#000" stroke="#000" stroke-width="0.4" textLength="105.46" lengthAdjust="spacingAndGlyphs">OO</text>
<text x="1260.74" y="95.8" font-size="69.8" fill="#000" stroke="#000" stroke-width="0.4">.</text>
<text x="1281.45" y="95.8" font-size="69.8" fill="#000" stroke="#000" stroke-width="0.4" textLength="219.34" lengthAdjust="spacingAndGlyphs">AXEC1</text>
<text x="1504.14" y="95.8" font-size="69.8" fill="#000" stroke="#000" stroke-width="0.4">.</text>
<text x="1524.76" y="95.8" font-size="69.8" fill="#000" stroke="#000" stroke-width="0.4" textLength="136.70" lengthAdjust="spacingAndGlyphs">EHZ</text>
</g>
</svg></body></html>
